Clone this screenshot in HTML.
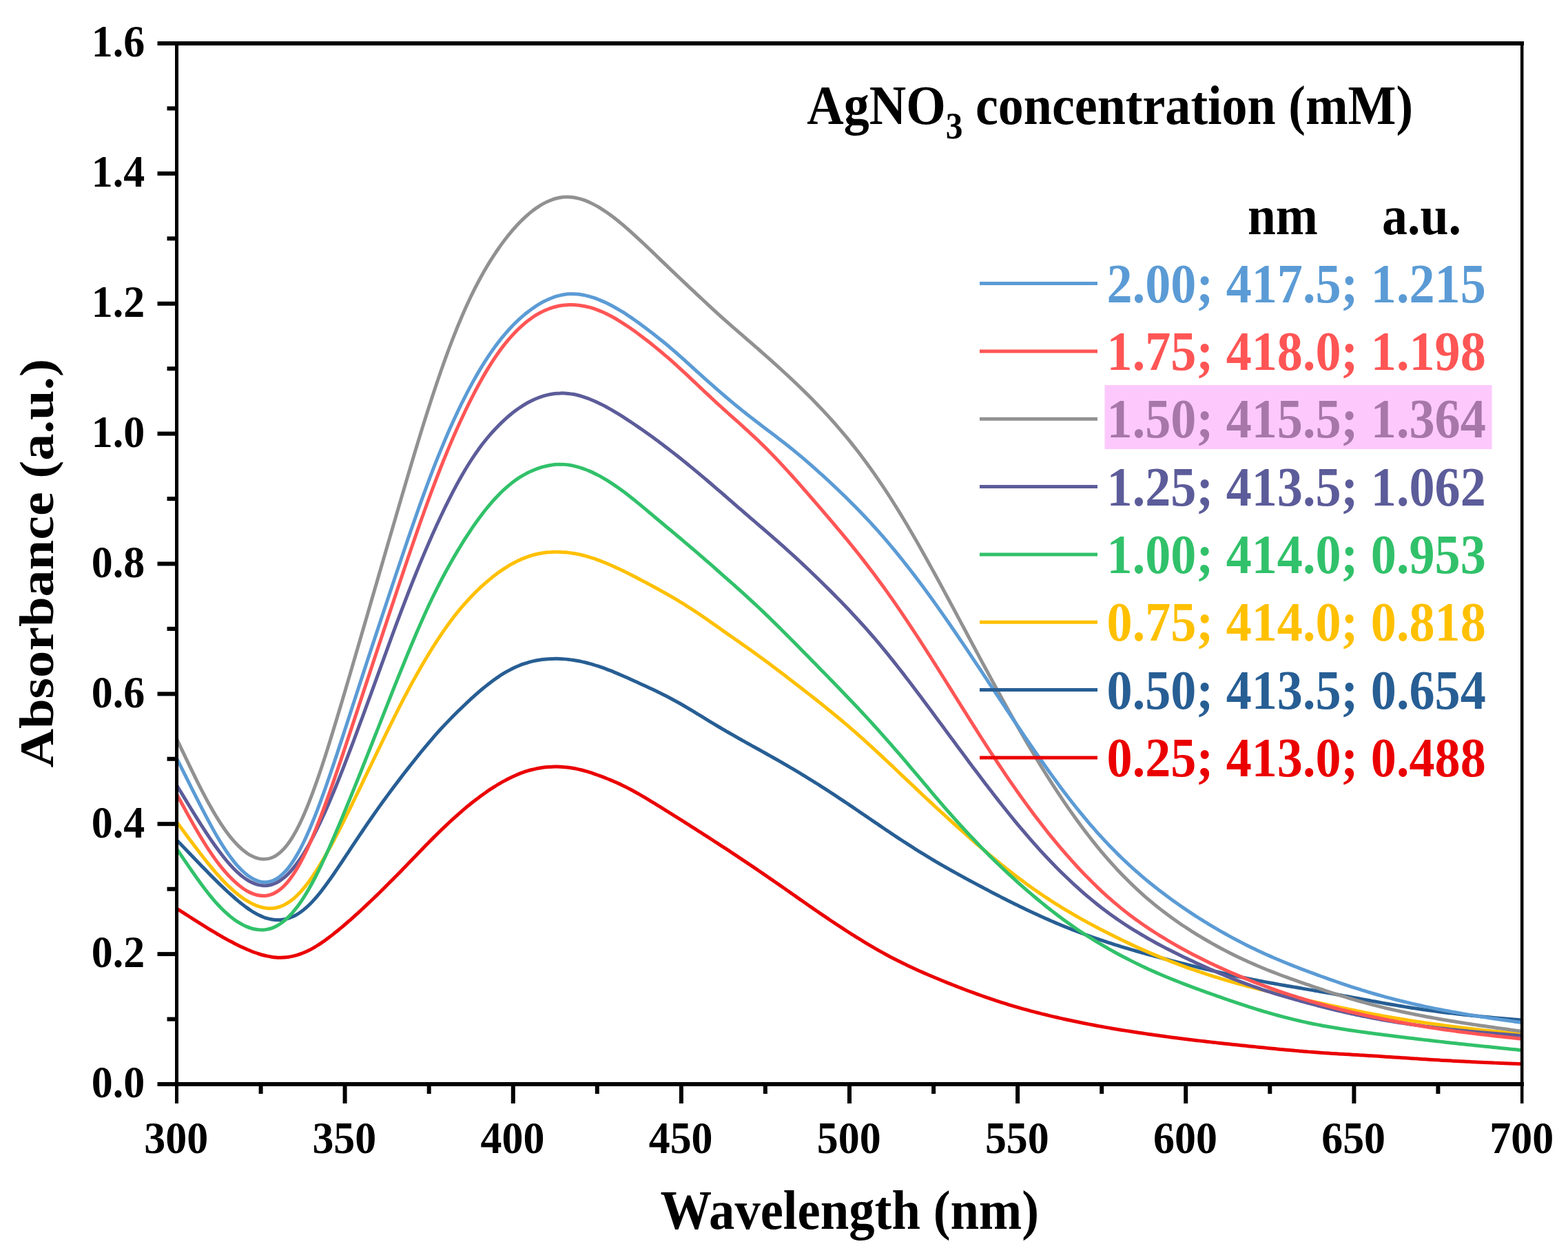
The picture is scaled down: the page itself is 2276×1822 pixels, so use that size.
<!DOCTYPE html>
<html><head><meta charset="utf-8"><title>AgNO3 UV-Vis absorbance spectra</title><style>
html,body{margin:0;padding:0;background:#fff;width:2276px;height:1822px;overflow:hidden}
svg{display:block}
text{font-family:"Liberation Serif","Times New Roman",serif;font-weight:bold}
</style></head><body>
<svg width="2276" height="1822" viewBox="0 0 2276 1822">
<rect width="2276" height="1822" fill="#fff"/>
<g fill="none" stroke-width="5" stroke-linejoin="round" stroke-linecap="butt">
<path stroke="#EA0000" d="M256.50,1318.95C258.50,1320.23 260.49,1321.52 262.49,1322.80C264.49,1324.08 266.48,1325.36 268.48,1326.64C270.48,1327.92 272.48,1329.20 274.47,1330.48C276.47,1331.76 278.47,1333.03 280.46,1334.31C282.46,1335.58 284.46,1336.85 286.45,1338.12C288.45,1339.39 290.45,1340.65 292.44,1341.91C294.44,1343.17 296.44,1344.42 298.44,1345.67C300.43,1346.91 302.43,1348.14 304.43,1349.36C306.42,1350.58 308.42,1351.79 310.42,1352.98C312.41,1354.18 314.41,1355.36 316.41,1356.52C318.40,1357.68 320.40,1358.83 322.40,1359.96C324.40,1361.09 326.39,1362.21 328.39,1363.31C330.39,1364.41 332.38,1365.49 334.38,1366.55C336.38,1367.62 338.37,1368.66 340.37,1369.68C342.37,1370.71 344.37,1371.71 346.36,1372.68C348.36,1373.66 350.36,1374.61 352.35,1375.53C354.35,1376.46 356.35,1377.35 358.34,1378.22C360.34,1379.08 362.34,1379.92 364.33,1380.71C366.33,1381.51 368.33,1382.27 370.33,1382.99C372.32,1383.70 374.32,1384.38 376.32,1385.00C378.31,1385.63 380.31,1386.21 382.31,1386.74C384.30,1387.26 386.30,1387.74 388.30,1388.15C390.29,1388.57 392.29,1388.93 394.29,1389.22C396.29,1389.52 398.28,1389.75 400.28,1389.92C402.28,1390.08 404.27,1390.18 406.27,1390.21C408.27,1390.23 410.26,1390.19 412.26,1390.06C414.26,1389.94 416.25,1389.74 418.25,1389.47C420.25,1389.19 422.25,1388.84 424.24,1388.41C426.24,1387.98 428.24,1387.48 430.23,1386.90C432.23,1386.32 434.23,1385.67 436.22,1384.94C438.22,1384.22 440.22,1383.43 442.21,1382.57C444.21,1381.71 446.21,1380.78 448.21,1379.78C450.20,1378.79 452.20,1377.72 454.20,1376.59C456.19,1375.45 458.19,1374.25 460.19,1373.00C462.18,1371.75 464.18,1370.45 466.18,1369.10C468.17,1367.75 470.17,1366.35 472.17,1364.91C474.17,1363.47 476.16,1362.00 478.16,1360.48C480.16,1358.97 482.15,1357.43 484.15,1355.85C486.15,1354.28 488.14,1352.68 490.14,1351.05C492.14,1349.42 494.13,1347.77 496.13,1346.09C498.13,1344.41 500.13,1342.71 502.12,1340.99C504.12,1339.27 506.12,1337.53 508.11,1335.78C510.11,1334.02 512.11,1332.24 514.10,1330.45C516.10,1328.66 518.10,1326.85 520.10,1325.03C522.09,1323.21 524.09,1321.37 526.09,1319.53C528.08,1317.68 530.08,1315.82 532.08,1313.94C534.07,1312.06 536.07,1310.17 538.07,1308.27C540.06,1306.37 542.06,1304.45 544.06,1302.52C546.06,1300.59 548.05,1298.65 550.05,1296.70C552.05,1294.74 554.04,1292.78 556.04,1290.80C558.04,1288.83 560.03,1286.84 562.03,1284.85C564.03,1282.85 566.02,1280.85 568.02,1278.84C570.02,1276.83 572.02,1274.81 574.01,1272.78C576.01,1270.76 578.01,1268.72 580.00,1266.68C582.00,1264.64 584.00,1262.60 585.99,1260.54C587.99,1258.49 589.99,1256.43 591.98,1254.37C593.98,1252.31 595.98,1250.24 597.98,1248.18C599.97,1246.11 601.97,1244.04 603.97,1241.96C605.96,1239.89 607.96,1237.82 609.96,1235.75C611.95,1233.68 613.95,1231.62 615.95,1229.56C617.94,1227.51 619.94,1225.46 621.94,1223.43C623.94,1221.40 625.93,1219.38 627.93,1217.38C629.93,1215.37 631.92,1213.39 633.92,1211.42C635.92,1209.45 637.91,1207.50 639.91,1205.57C641.91,1203.64 643.90,1201.73 645.90,1199.84C647.90,1197.95 649.90,1196.07 651.89,1194.22C653.89,1192.37 655.89,1190.53 657.88,1188.71C659.88,1186.90 661.88,1185.10 663.87,1183.32C665.87,1181.55 667.87,1179.79 669.87,1178.05C671.86,1176.32 673.86,1174.60 675.86,1172.92C677.85,1171.24 679.85,1169.58 681.85,1167.97C683.84,1166.35 685.84,1164.77 687.84,1163.21C689.83,1161.66 691.83,1160.13 693.83,1158.63C695.83,1157.13 697.82,1155.66 699.82,1154.22C701.82,1152.78 703.81,1151.36 705.81,1149.98C707.81,1148.60 709.80,1147.24 711.80,1145.92C713.80,1144.60 715.79,1143.31 717.79,1142.05C719.79,1140.79 721.79,1139.57 723.78,1138.38C725.78,1137.19 727.78,1136.03 729.77,1134.92C731.77,1133.80 733.77,1132.72 735.76,1131.68C737.76,1130.63 739.76,1129.63 741.75,1128.67C743.75,1127.71 745.75,1126.79 747.75,1125.92C749.74,1125.04 751.74,1124.21 753.74,1123.42C755.73,1122.63 757.73,1121.88 759.73,1121.18C761.72,1120.48 763.72,1119.82 765.72,1119.21C767.71,1118.60 769.71,1118.03 771.71,1117.52C773.71,1117.00 775.70,1116.52 777.70,1116.10C779.70,1115.67 781.69,1115.29 783.69,1114.96C785.69,1114.62 787.68,1114.34 789.68,1114.09C791.68,1113.85 793.67,1113.65 795.67,1113.50C797.67,1113.35 799.67,1113.23 801.66,1113.17C803.66,1113.10 805.66,1113.07 807.65,1113.09C809.65,1113.10 811.65,1113.16 813.64,1113.25C815.64,1113.35 817.64,1113.49 819.63,1113.67C821.63,1113.84 823.63,1114.06 825.63,1114.32C827.62,1114.58 829.62,1114.88 831.62,1115.22C833.61,1115.57 835.61,1115.95 837.61,1116.37C839.60,1116.80 841.60,1117.26 843.60,1117.76C845.60,1118.26 847.59,1118.80 849.59,1119.37C851.59,1119.93 853.58,1120.53 855.58,1121.16C857.58,1121.79 859.57,1122.45 861.57,1123.12C863.57,1123.80 865.56,1124.51 867.56,1125.23C869.56,1125.95 871.56,1126.69 873.55,1127.44C875.55,1128.20 877.55,1128.97 879.54,1129.76C881.54,1130.54 883.54,1131.35 885.53,1132.17C887.53,1132.99 889.53,1133.84 891.52,1134.70C893.52,1135.56 895.52,1136.44 897.52,1137.35C899.51,1138.26 901.51,1139.20 903.51,1140.16C905.50,1141.13 907.50,1142.12 909.50,1143.14C911.49,1144.16 913.49,1145.20 915.49,1146.26C917.48,1147.33 919.48,1148.41 921.48,1149.52C923.48,1150.62 925.47,1151.75 927.47,1152.89C929.47,1154.03 931.46,1155.19 933.46,1156.36C935.46,1157.53 937.45,1158.71 939.45,1159.91C941.45,1161.10 943.44,1162.31 945.44,1163.52C947.44,1164.74 949.44,1165.96 951.43,1167.19C953.43,1168.41 955.43,1169.65 957.42,1170.88C959.42,1172.12 961.42,1173.36 963.41,1174.60C965.41,1175.84 967.41,1177.08 969.40,1178.33C971.40,1179.58 973.40,1180.83 975.40,1182.08C977.39,1183.33 979.39,1184.58 981.39,1185.84C983.38,1187.10 985.38,1188.36 987.38,1189.62C989.37,1190.88 991.37,1192.14 993.37,1193.41C995.37,1194.68 997.36,1195.94 999.36,1197.21C1001.36,1198.48 1003.35,1199.75 1005.35,1201.03C1007.35,1202.30 1009.34,1203.58 1011.34,1204.85C1013.34,1206.13 1015.33,1207.41 1017.33,1208.69C1019.33,1209.97 1021.33,1211.25 1023.32,1212.54C1025.32,1213.82 1027.32,1215.10 1029.31,1216.39C1031.31,1217.68 1033.31,1218.97 1035.30,1220.26C1037.30,1221.55 1039.30,1222.85 1041.29,1224.15C1043.29,1225.44 1045.29,1226.74 1047.29,1228.05C1049.28,1229.35 1051.28,1230.65 1053.28,1231.96C1055.27,1233.27 1057.27,1234.58 1059.27,1235.90C1061.26,1237.21 1063.26,1238.53 1065.26,1239.85C1067.25,1241.17 1069.25,1242.50 1071.25,1243.82C1073.25,1245.15 1075.24,1246.48 1077.24,1247.82C1079.24,1249.15 1081.23,1250.49 1083.23,1251.83C1085.23,1253.17 1087.22,1254.51 1089.22,1255.86C1091.22,1257.21 1093.21,1258.56 1095.21,1259.91C1097.21,1261.27 1099.21,1262.62 1101.20,1263.99C1103.20,1265.35 1105.20,1266.71 1107.19,1268.08C1109.19,1269.44 1111.19,1270.81 1113.18,1272.19C1115.18,1273.56 1117.18,1274.94 1119.17,1276.32C1121.17,1277.70 1123.17,1279.08 1125.17,1280.46C1127.16,1281.85 1129.16,1283.24 1131.16,1284.63C1133.15,1286.02 1135.15,1287.41 1137.15,1288.80C1139.14,1290.20 1141.14,1291.60 1143.14,1293.00C1145.13,1294.39 1147.13,1295.79 1149.13,1297.19C1151.13,1298.59 1153.12,1299.99 1155.12,1301.39C1157.12,1302.79 1159.11,1304.19 1161.11,1305.58C1163.11,1306.98 1165.10,1308.38 1167.10,1309.77C1169.10,1311.16 1171.10,1312.55 1173.09,1313.94C1175.09,1315.33 1177.09,1316.72 1179.08,1318.10C1181.08,1319.48 1183.08,1320.86 1185.07,1322.24C1187.07,1323.61 1189.07,1324.98 1191.06,1326.35C1193.06,1327.72 1195.06,1329.08 1197.06,1330.44C1199.05,1331.80 1201.05,1333.15 1203.05,1334.50C1205.04,1335.84 1207.04,1337.18 1209.04,1338.52C1211.03,1339.85 1213.03,1341.18 1215.03,1342.50C1217.02,1343.82 1219.02,1345.14 1221.02,1346.44C1223.02,1347.75 1225.01,1349.05 1227.01,1350.34C1229.01,1351.63 1231.00,1352.91 1233.00,1354.18C1235.00,1355.46 1236.99,1356.72 1238.99,1357.98C1240.99,1359.24 1242.98,1360.49 1244.98,1361.73C1246.98,1362.96 1248.98,1364.19 1250.97,1365.42C1252.97,1366.64 1254.97,1367.85 1256.96,1369.05C1258.96,1370.25 1260.96,1371.44 1262.95,1372.62C1264.95,1373.80 1266.95,1374.96 1268.94,1376.12C1270.94,1377.28 1272.94,1378.42 1274.94,1379.55C1276.93,1380.69 1278.93,1381.81 1280.93,1382.92C1282.92,1384.03 1284.92,1385.12 1286.92,1386.21C1288.91,1387.29 1290.91,1388.36 1292.91,1389.42C1294.90,1390.47 1296.90,1391.52 1298.90,1392.55C1300.90,1393.58 1302.89,1394.60 1304.89,1395.60C1306.89,1396.60 1308.88,1397.59 1310.88,1398.57C1312.88,1399.55 1314.87,1400.51 1316.87,1401.46C1318.87,1402.41 1320.87,1403.35 1322.86,1404.28C1324.86,1405.21 1326.86,1406.13 1328.85,1407.04C1330.85,1407.95 1332.85,1408.85 1334.84,1409.74C1336.84,1410.63 1338.84,1411.51 1340.83,1412.39C1342.83,1413.26 1344.83,1414.12 1346.83,1414.98C1348.82,1415.84 1350.82,1416.69 1352.82,1417.54C1354.81,1418.38 1356.81,1419.22 1358.81,1420.05C1360.80,1420.88 1362.80,1421.71 1364.80,1422.53C1366.79,1423.35 1368.79,1424.17 1370.79,1424.98C1372.79,1425.79 1374.78,1426.59 1376.78,1427.39C1378.78,1428.19 1380.77,1428.99 1382.77,1429.78C1384.77,1430.57 1386.76,1431.35 1388.76,1432.13C1390.76,1432.91 1392.75,1433.68 1394.75,1434.45C1396.75,1435.21 1398.75,1435.98 1400.74,1436.73C1402.74,1437.49 1404.74,1438.24 1406.73,1438.98C1408.73,1439.73 1410.73,1440.46 1412.72,1441.20C1414.72,1441.93 1416.72,1442.65 1418.71,1443.37C1420.71,1444.09 1422.71,1444.81 1424.71,1445.51C1426.70,1446.22 1428.70,1446.92 1430.70,1447.61C1432.69,1448.31 1434.69,1448.99 1436.69,1449.67C1438.68,1450.35 1440.68,1451.03 1442.68,1451.69C1444.67,1452.36 1446.67,1453.02 1448.67,1453.67C1450.67,1454.32 1452.66,1454.96 1454.66,1455.60C1456.66,1456.23 1458.65,1456.86 1460.65,1457.48C1462.65,1458.10 1464.64,1458.71 1466.64,1459.32C1468.64,1459.92 1470.63,1460.52 1472.63,1461.11C1474.63,1461.70 1476.63,1462.28 1478.62,1462.85C1480.62,1463.43 1482.62,1463.99 1484.61,1464.55C1486.61,1465.11 1488.61,1465.66 1490.60,1466.21C1492.60,1466.75 1494.60,1467.29 1496.60,1467.82C1498.59,1468.35 1500.59,1468.88 1502.59,1469.40C1504.58,1469.91 1506.58,1470.43 1508.58,1470.93C1510.57,1471.44 1512.57,1471.94 1514.57,1472.43C1516.56,1472.93 1518.56,1473.42 1520.56,1473.90C1522.56,1474.38 1524.55,1474.86 1526.55,1475.34C1528.55,1475.81 1530.54,1476.28 1532.54,1476.74C1534.54,1477.20 1536.53,1477.66 1538.53,1478.11C1540.53,1478.56 1542.52,1479.01 1544.52,1479.45C1546.52,1479.90 1548.52,1480.34 1550.51,1480.77C1552.51,1481.20 1554.51,1481.63 1556.50,1482.05C1558.50,1482.48 1560.50,1482.90 1562.49,1483.31C1564.49,1483.73 1566.49,1484.14 1568.48,1484.54C1570.48,1484.95 1572.48,1485.35 1574.48,1485.74C1576.47,1486.14 1578.47,1486.53 1580.47,1486.92C1582.46,1487.31 1584.46,1487.69 1586.46,1488.07C1588.45,1488.45 1590.45,1488.82 1592.45,1489.19C1594.44,1489.56 1596.44,1489.93 1598.44,1490.29C1600.44,1490.65 1602.43,1491.01 1604.43,1491.36C1606.43,1491.71 1608.42,1492.06 1610.42,1492.41C1612.42,1492.75 1614.41,1493.09 1616.41,1493.43C1618.41,1493.77 1620.40,1494.10 1622.40,1494.43C1624.40,1494.76 1626.40,1495.09 1628.39,1495.42C1630.39,1495.74 1632.39,1496.06 1634.38,1496.38C1636.38,1496.70 1638.38,1497.01 1640.37,1497.33C1642.37,1497.64 1644.37,1497.95 1646.37,1498.26C1648.36,1498.56 1650.36,1498.87 1652.36,1499.17C1654.35,1499.47 1656.35,1499.77 1658.35,1500.07C1660.34,1500.36 1662.34,1500.66 1664.34,1500.95C1666.33,1501.24 1668.33,1501.53 1670.33,1501.81C1672.33,1502.10 1674.32,1502.38 1676.32,1502.66C1678.32,1502.94 1680.31,1503.22 1682.31,1503.50C1684.31,1503.78 1686.30,1504.05 1688.30,1504.32C1690.30,1504.59 1692.29,1504.86 1694.29,1505.13C1696.29,1505.40 1698.29,1505.66 1700.28,1505.92C1702.28,1506.19 1704.28,1506.45 1706.27,1506.71C1708.27,1506.96 1710.27,1507.22 1712.26,1507.47C1714.26,1507.73 1716.26,1507.98 1718.25,1508.23C1720.25,1508.48 1722.25,1508.73 1724.25,1508.97C1726.24,1509.22 1728.24,1509.46 1730.24,1509.71C1732.23,1509.95 1734.23,1510.19 1736.23,1510.43C1738.22,1510.66 1740.22,1510.90 1742.22,1511.14C1744.21,1511.37 1746.21,1511.60 1748.21,1511.83C1750.21,1512.07 1752.20,1512.29 1754.20,1512.52C1756.20,1512.75 1758.19,1512.98 1760.19,1513.20C1762.19,1513.43 1764.18,1513.65 1766.18,1513.87C1768.18,1514.09 1770.17,1514.31 1772.17,1514.53C1774.17,1514.75 1776.17,1514.97 1778.16,1515.18C1780.16,1515.40 1782.16,1515.61 1784.15,1515.83C1786.15,1516.04 1788.15,1516.25 1790.14,1516.46C1792.14,1516.67 1794.14,1516.88 1796.13,1517.09C1798.13,1517.30 1800.13,1517.51 1802.13,1517.72C1804.12,1517.93 1806.12,1518.13 1808.12,1518.34C1810.11,1518.54 1812.11,1518.75 1814.11,1518.95C1816.10,1519.16 1818.10,1519.36 1820.10,1519.56C1822.10,1519.77 1824.09,1519.97 1826.09,1520.17C1828.09,1520.37 1830.08,1520.57 1832.08,1520.77C1834.08,1520.97 1836.07,1521.17 1838.07,1521.37C1840.07,1521.57 1842.06,1521.77 1844.06,1521.96C1846.06,1522.16 1848.06,1522.36 1850.05,1522.55C1852.05,1522.75 1854.05,1522.94 1856.04,1523.14C1858.04,1523.33 1860.04,1523.52 1862.03,1523.71C1864.03,1523.90 1866.03,1524.09 1868.02,1524.28C1870.02,1524.47 1872.02,1524.65 1874.02,1524.83C1876.01,1525.02 1878.01,1525.20 1880.01,1525.37C1882.00,1525.55 1884.00,1525.73 1886.00,1525.90C1887.99,1526.07 1889.99,1526.24 1891.99,1526.40C1893.98,1526.56 1895.98,1526.73 1897.98,1526.88C1899.98,1527.04 1901.97,1527.20 1903.97,1527.35C1905.97,1527.50 1907.96,1527.65 1909.96,1527.79C1911.96,1527.94 1913.95,1528.08 1915.95,1528.22C1917.95,1528.36 1919.94,1528.50 1921.94,1528.63C1923.94,1528.76 1925.94,1528.90 1927.93,1529.03C1929.93,1529.15 1931.93,1529.28 1933.92,1529.41C1935.92,1529.53 1937.92,1529.65 1939.91,1529.78C1941.91,1529.90 1943.91,1530.02 1945.90,1530.14C1947.90,1530.26 1949.90,1530.37 1951.90,1530.49C1953.89,1530.61 1955.89,1530.73 1957.89,1530.85C1959.88,1530.96 1961.88,1531.08 1963.88,1531.20C1965.87,1531.32 1967.87,1531.43 1969.87,1531.55C1971.87,1531.67 1973.86,1531.79 1975.86,1531.91C1977.86,1532.03 1979.85,1532.15 1981.85,1532.27C1983.85,1532.39 1985.84,1532.51 1987.84,1532.63C1989.84,1532.75 1991.83,1532.87 1993.83,1533.00C1995.83,1533.12 1997.83,1533.25 1999.82,1533.37C2001.82,1533.50 2003.82,1533.62 2005.81,1533.75C2007.81,1533.88 2009.81,1534.00 2011.80,1534.13C2013.80,1534.26 2015.80,1534.39 2017.79,1534.52C2019.79,1534.65 2021.79,1534.78 2023.79,1534.91C2025.78,1535.04 2027.78,1535.17 2029.78,1535.30C2031.77,1535.43 2033.77,1535.56 2035.77,1535.69C2037.76,1535.83 2039.76,1535.96 2041.76,1536.09C2043.75,1536.22 2045.75,1536.35 2047.75,1536.48C2049.75,1536.61 2051.74,1536.74 2053.74,1536.87C2055.74,1537.00 2057.73,1537.13 2059.73,1537.26C2061.73,1537.39 2063.72,1537.52 2065.72,1537.65C2067.72,1537.77 2069.71,1537.90 2071.71,1538.02C2073.71,1538.15 2075.71,1538.27 2077.70,1538.40C2079.70,1538.52 2081.70,1538.64 2083.69,1538.76C2085.69,1538.88 2087.69,1539.00 2089.68,1539.12C2091.68,1539.23 2093.68,1539.35 2095.67,1539.47C2097.67,1539.58 2099.67,1539.69 2101.67,1539.80C2103.66,1539.92 2105.66,1540.03 2107.66,1540.13C2109.65,1540.24 2111.65,1540.35 2113.65,1540.46C2115.64,1540.56 2117.64,1540.67 2119.64,1540.77C2121.63,1540.87 2123.63,1540.97 2125.63,1541.07C2127.63,1541.17 2129.62,1541.27 2131.62,1541.37C2133.62,1541.47 2135.61,1541.56 2137.61,1541.66C2139.61,1541.75 2141.60,1541.84 2143.60,1541.94C2145.60,1542.03 2147.60,1542.12 2149.59,1542.21C2151.59,1542.30 2153.59,1542.39 2155.58,1542.48C2157.58,1542.56 2159.58,1542.65 2161.57,1542.74C2163.57,1542.82 2165.57,1542.91 2167.56,1543.00C2169.56,1543.08 2171.56,1543.17 2173.56,1543.25C2175.55,1543.33 2177.55,1543.42 2179.55,1543.50C2181.54,1543.59 2183.54,1543.67 2185.54,1543.75C2187.53,1543.84 2189.53,1543.92 2191.53,1544.00C2193.52,1544.08 2195.52,1544.16 2197.52,1544.25C2199.52,1544.33 2201.51,1544.41 2203.51,1544.49C2205.51,1544.58 2207.50,1544.66 2209.50,1544.74"/>
<path stroke="#275E94" d="M256.50,1219.49C258.50,1221.57 260.49,1223.66 262.49,1225.74C264.49,1227.82 266.48,1229.90 268.48,1231.98C270.48,1234.06 272.48,1236.14 274.47,1238.22C276.47,1240.30 278.47,1242.38 280.46,1244.46C282.46,1246.54 284.46,1248.61 286.45,1250.69C288.45,1252.76 290.45,1254.83 292.44,1256.90C294.44,1258.97 296.44,1261.03 298.44,1263.08C300.43,1265.14 302.43,1267.19 304.43,1269.22C306.42,1271.25 308.42,1273.28 310.42,1275.28C312.41,1277.29 314.41,1279.27 316.41,1281.24C318.40,1283.20 320.40,1285.15 322.40,1287.06C324.40,1288.98 326.39,1290.87 328.39,1292.73C330.39,1294.58 332.38,1296.41 334.38,1298.21C336.38,1300.01 338.37,1301.77 340.37,1303.50C342.37,1305.22 344.37,1306.92 346.36,1308.56C348.36,1310.21 350.36,1311.82 352.35,1313.37C354.35,1314.92 356.35,1316.42 358.34,1317.86C360.34,1319.29 362.34,1320.67 364.33,1321.97C366.33,1323.27 368.33,1324.50 370.33,1325.65C372.32,1326.79 374.32,1327.86 376.32,1328.83C378.31,1329.80 380.31,1330.68 382.31,1331.46C384.30,1332.23 386.30,1332.90 388.30,1333.46C390.29,1334.03 392.29,1334.48 394.29,1334.82C396.29,1335.16 398.28,1335.39 400.28,1335.50C402.28,1335.62 404.27,1335.61 406.27,1335.49C408.27,1335.37 410.26,1335.12 412.26,1334.76C414.26,1334.40 416.25,1333.91 418.25,1333.30C420.25,1332.68 422.25,1331.95 424.24,1331.08C426.24,1330.21 428.24,1329.22 430.23,1328.09C432.23,1326.96 434.23,1325.69 436.22,1324.30C438.22,1322.90 440.22,1321.36 442.21,1319.69C444.21,1318.02 446.21,1316.21 448.21,1314.28C450.20,1312.35 452.20,1310.30 454.20,1308.13C456.19,1305.96 458.19,1303.69 460.19,1301.32C462.18,1298.94 464.18,1296.47 466.18,1293.92C468.17,1291.37 470.17,1288.74 472.17,1286.05C474.17,1283.35 476.16,1280.59 478.16,1277.78C480.16,1274.97 482.15,1272.12 484.15,1269.22C486.15,1266.33 488.14,1263.39 490.14,1260.44C492.14,1257.48 494.13,1254.50 496.13,1251.50C498.13,1248.51 500.13,1245.50 502.12,1242.48C504.12,1239.47 506.12,1236.45 508.11,1233.43C510.11,1230.42 512.11,1227.40 514.10,1224.40C516.10,1221.39 518.10,1218.39 520.10,1215.41C522.09,1212.42 524.09,1209.45 526.09,1206.50C528.08,1203.55 530.08,1200.61 532.08,1197.69C534.07,1194.77 536.07,1191.87 538.07,1188.99C540.06,1186.11 542.06,1183.24 544.06,1180.40C546.06,1177.56 548.05,1174.73 550.05,1171.93C552.05,1169.13 554.04,1166.34 556.04,1163.58C558.04,1160.82 560.03,1158.07 562.03,1155.35C564.03,1152.63 566.02,1149.93 568.02,1147.25C570.02,1144.56 572.02,1141.90 574.01,1139.25C576.01,1136.61 578.01,1133.98 580.00,1131.37C582.00,1128.75 584.00,1126.16 585.99,1123.58C587.99,1120.99 589.99,1118.43 591.98,1115.88C593.98,1113.32 595.98,1110.79 597.98,1108.26C599.97,1105.74 601.97,1103.23 603.97,1100.73C605.96,1098.24 607.96,1095.76 609.96,1093.29C611.95,1090.83 613.95,1088.39 615.95,1085.97C617.94,1083.55 619.94,1081.16 621.94,1078.79C623.94,1076.42 625.93,1074.08 627.93,1071.77C629.93,1069.46 631.92,1067.18 633.92,1064.94C635.92,1062.70 637.91,1060.49 639.91,1058.31C641.91,1056.14 643.90,1054.00 645.90,1051.89C647.90,1049.78 649.90,1047.70 651.89,1045.64C653.89,1043.59 655.89,1041.56 657.88,1039.55C659.88,1037.53 661.88,1035.54 663.87,1033.57C665.87,1031.60 667.87,1029.65 669.87,1027.71C671.86,1025.77 673.86,1023.85 675.86,1021.95C677.85,1020.06 679.85,1018.18 681.85,1016.33C683.84,1014.48 685.84,1012.65 687.84,1010.86C689.83,1009.07 691.83,1007.30 693.83,1005.58C695.83,1003.85 697.82,1002.15 699.82,1000.49C701.82,998.83 703.81,997.20 705.81,995.61C707.81,994.02 709.80,992.46 711.80,990.94C713.80,989.42 715.79,987.94 717.79,986.50C719.79,985.07 721.79,983.68 723.78,982.34C725.78,981.00 727.78,979.71 729.77,978.48C731.77,977.24 733.77,976.06 735.76,974.93C737.76,973.80 739.76,972.73 741.75,971.71C743.75,970.68 745.75,969.72 747.75,968.80C749.74,967.89 751.74,967.04 753.74,966.23C755.73,965.43 757.73,964.68 759.73,963.98C761.72,963.29 763.72,962.64 765.72,962.05C767.71,961.45 769.71,960.91 771.71,960.41C773.71,959.92 775.70,959.47 777.70,959.07C779.70,958.67 781.69,958.32 783.69,958.02C785.69,957.71 787.68,957.45 789.68,957.23C791.68,957.01 793.67,956.83 795.67,956.69C797.67,956.56 799.67,956.46 801.66,956.40C803.66,956.35 805.66,956.33 807.65,956.34C809.65,956.36 811.65,956.41 813.64,956.50C815.64,956.59 817.64,956.71 819.63,956.87C821.63,957.03 823.63,957.22 825.63,957.44C827.62,957.67 829.62,957.93 831.62,958.23C833.61,958.52 835.61,958.85 837.61,959.21C839.60,959.57 841.60,959.96 843.60,960.38C845.60,960.81 847.59,961.26 849.59,961.75C851.59,962.23 853.58,962.75 855.58,963.30C857.58,963.84 859.57,964.41 861.57,965.02C863.57,965.62 865.56,966.25 867.56,966.90C869.56,967.55 871.56,968.23 873.55,968.94C875.55,969.64 877.55,970.37 879.54,971.11C881.54,971.86 883.54,972.63 885.53,973.42C887.53,974.20 889.53,975.01 891.52,975.83C893.52,976.66 895.52,977.49 897.52,978.34C899.51,979.20 901.51,980.06 903.51,980.93C905.50,981.80 907.50,982.68 909.50,983.57C911.49,984.46 913.49,985.35 915.49,986.25C917.48,987.15 919.48,988.05 921.48,988.96C923.48,989.87 925.47,990.78 927.47,991.70C929.47,992.61 931.46,993.53 933.46,994.45C935.46,995.37 937.45,996.29 939.45,997.22C941.45,998.14 943.44,999.07 945.44,1000.01C947.44,1000.94 949.44,1001.88 951.43,1002.83C953.43,1003.79 955.43,1004.75 957.42,1005.73C959.42,1006.71 961.42,1007.70 963.41,1008.70C965.41,1009.71 967.41,1010.73 969.40,1011.76C971.40,1012.80 973.40,1013.85 975.40,1014.92C977.39,1015.99 979.39,1017.07 981.39,1018.18C983.38,1019.28 985.38,1020.40 987.38,1021.54C989.37,1022.68 991.37,1023.84 993.37,1025.00C995.37,1026.17 997.36,1027.36 999.36,1028.55C1001.36,1029.74 1003.35,1030.94 1005.35,1032.15C1007.35,1033.36 1009.34,1034.58 1011.34,1035.79C1013.34,1037.01 1015.33,1038.24 1017.33,1039.46C1019.33,1040.68 1021.33,1041.90 1023.32,1043.13C1025.32,1044.35 1027.32,1045.57 1029.31,1046.78C1031.31,1047.99 1033.31,1049.20 1035.30,1050.40C1037.30,1051.60 1039.30,1052.80 1041.29,1053.98C1043.29,1055.17 1045.29,1056.35 1047.29,1057.53C1049.28,1058.70 1051.28,1059.87 1053.28,1061.04C1055.27,1062.20 1057.27,1063.36 1059.27,1064.51C1061.26,1065.66 1063.26,1066.80 1065.26,1067.95C1067.25,1069.09 1069.25,1070.22 1071.25,1071.35C1073.25,1072.48 1075.24,1073.61 1077.24,1074.73C1079.24,1075.85 1081.23,1076.96 1083.23,1078.08C1085.23,1079.19 1087.22,1080.30 1089.22,1081.41C1091.22,1082.52 1093.21,1083.62 1095.21,1084.73C1097.21,1085.84 1099.21,1086.95 1101.20,1088.05C1103.20,1089.16 1105.20,1090.27 1107.19,1091.38C1109.19,1092.49 1111.19,1093.61 1113.18,1094.72C1115.18,1095.84 1117.18,1096.96 1119.17,1098.08C1121.17,1099.21 1123.17,1100.33 1125.17,1101.47C1127.16,1102.60 1129.16,1103.73 1131.16,1104.88C1133.15,1106.02 1135.15,1107.17 1137.15,1108.32C1139.14,1109.48 1141.14,1110.64 1143.14,1111.80C1145.13,1112.97 1147.13,1114.14 1149.13,1115.32C1151.13,1116.50 1153.12,1117.68 1155.12,1118.88C1157.12,1120.07 1159.11,1121.27 1161.11,1122.47C1163.11,1123.68 1165.10,1124.89 1167.10,1126.11C1169.10,1127.32 1171.10,1128.55 1173.09,1129.78C1175.09,1131.01 1177.09,1132.25 1179.08,1133.50C1181.08,1134.74 1183.08,1136.00 1185.07,1137.26C1187.07,1138.51 1189.07,1139.78 1191.06,1141.06C1193.06,1142.33 1195.06,1143.61 1197.06,1144.90C1199.05,1146.18 1201.05,1147.48 1203.05,1148.77C1205.04,1150.07 1207.04,1151.38 1209.04,1152.69C1211.03,1154.00 1213.03,1155.31 1215.03,1156.63C1217.02,1157.95 1219.02,1159.28 1221.02,1160.61C1223.02,1161.94 1225.01,1163.27 1227.01,1164.61C1229.01,1165.94 1231.00,1167.28 1233.00,1168.63C1235.00,1169.97 1236.99,1171.32 1238.99,1172.67C1240.99,1174.03 1242.98,1175.38 1244.98,1176.74C1246.98,1178.10 1248.98,1179.46 1250.97,1180.82C1252.97,1182.18 1254.97,1183.55 1256.96,1184.91C1258.96,1186.28 1260.96,1187.64 1262.95,1189.01C1264.95,1190.38 1266.95,1191.74 1268.94,1193.10C1270.94,1194.47 1272.94,1195.83 1274.94,1197.19C1276.93,1198.55 1278.93,1199.91 1280.93,1201.26C1282.92,1202.62 1284.92,1203.97 1286.92,1205.32C1288.91,1206.66 1290.91,1208.01 1292.91,1209.34C1294.90,1210.68 1296.90,1212.01 1298.90,1213.34C1300.90,1214.67 1302.89,1215.99 1304.89,1217.31C1306.89,1218.62 1308.88,1219.93 1310.88,1221.23C1312.88,1222.54 1314.87,1223.83 1316.87,1225.12C1318.87,1226.41 1320.87,1227.69 1322.86,1228.97C1324.86,1230.24 1326.86,1231.51 1328.85,1232.77C1330.85,1234.03 1332.85,1235.28 1334.84,1236.53C1336.84,1237.77 1338.84,1239.01 1340.83,1240.24C1342.83,1241.47 1344.83,1242.69 1346.83,1243.90C1348.82,1245.11 1350.82,1246.31 1352.82,1247.51C1354.81,1248.70 1356.81,1249.89 1358.81,1251.07C1360.80,1252.24 1362.80,1253.41 1364.80,1254.57C1366.79,1255.73 1368.79,1256.88 1370.79,1258.03C1372.79,1259.17 1374.78,1260.31 1376.78,1261.43C1378.78,1262.56 1380.77,1263.68 1382.77,1264.80C1384.77,1265.92 1386.76,1267.03 1388.76,1268.13C1390.76,1269.23 1392.75,1270.33 1394.75,1271.43C1396.75,1272.52 1398.75,1273.61 1400.74,1274.70C1402.74,1275.78 1404.74,1276.87 1406.73,1277.94C1408.73,1279.02 1410.73,1280.10 1412.72,1281.17C1414.72,1282.25 1416.72,1283.31 1418.71,1284.38C1420.71,1285.45 1422.71,1286.51 1424.71,1287.57C1426.70,1288.63 1428.70,1289.68 1430.70,1290.73C1432.69,1291.79 1434.69,1292.83 1436.69,1293.88C1438.68,1294.92 1440.68,1295.96 1442.68,1296.99C1444.67,1298.03 1446.67,1299.06 1448.67,1300.09C1450.67,1301.11 1452.66,1302.13 1454.66,1303.15C1456.66,1304.17 1458.65,1305.18 1460.65,1306.19C1462.65,1307.19 1464.64,1308.19 1466.64,1309.19C1468.64,1310.19 1470.63,1311.18 1472.63,1312.17C1474.63,1313.15 1476.63,1314.13 1478.62,1315.11C1480.62,1316.08 1482.62,1317.05 1484.61,1318.02C1486.61,1318.98 1488.61,1319.94 1490.60,1320.89C1492.60,1321.84 1494.60,1322.79 1496.60,1323.72C1498.59,1324.66 1500.59,1325.59 1502.59,1326.52C1504.58,1327.45 1506.58,1328.36 1508.58,1329.28C1510.57,1330.19 1512.57,1331.09 1514.57,1331.99C1516.56,1332.89 1518.56,1333.78 1520.56,1334.66C1522.56,1335.54 1524.55,1336.42 1526.55,1337.28C1528.55,1338.15 1530.54,1339.01 1532.54,1339.86C1534.54,1340.71 1536.53,1341.56 1538.53,1342.39C1540.53,1343.23 1542.52,1344.05 1544.52,1344.87C1546.52,1345.69 1548.52,1346.50 1550.51,1347.30C1552.51,1348.10 1554.51,1348.89 1556.50,1349.68C1558.50,1350.46 1560.50,1351.24 1562.49,1352.01C1564.49,1352.77 1566.49,1353.53 1568.48,1354.28C1570.48,1355.03 1572.48,1355.78 1574.48,1356.51C1576.47,1357.25 1578.47,1357.97 1580.47,1358.69C1582.46,1359.41 1584.46,1360.12 1586.46,1360.83C1588.45,1361.53 1590.45,1362.23 1592.45,1362.91C1594.44,1363.60 1596.44,1364.28 1598.44,1364.96C1600.44,1365.63 1602.43,1366.30 1604.43,1366.96C1606.43,1367.62 1608.42,1368.27 1610.42,1368.92C1612.42,1369.57 1614.41,1370.21 1616.41,1370.84C1618.41,1371.48 1620.40,1372.11 1622.40,1372.73C1624.40,1373.35 1626.40,1373.96 1628.39,1374.57C1630.39,1375.19 1632.39,1375.79 1634.38,1376.39C1636.38,1376.99 1638.38,1377.58 1640.37,1378.17C1642.37,1378.76 1644.37,1379.34 1646.37,1379.92C1648.36,1380.50 1650.36,1381.08 1652.36,1381.65C1654.35,1382.21 1656.35,1382.78 1658.35,1383.34C1660.34,1383.90 1662.34,1384.46 1664.34,1385.01C1666.33,1385.56 1668.33,1386.11 1670.33,1386.65C1672.33,1387.20 1674.32,1387.74 1676.32,1388.27C1678.32,1388.81 1680.31,1389.35 1682.31,1389.88C1684.31,1390.41 1686.30,1390.93 1688.30,1391.46C1690.30,1391.98 1692.29,1392.50 1694.29,1393.02C1696.29,1393.54 1698.29,1394.06 1700.28,1394.57C1702.28,1395.09 1704.28,1395.60 1706.27,1396.11C1708.27,1396.62 1710.27,1397.13 1712.26,1397.63C1714.26,1398.14 1716.26,1398.64 1718.25,1399.14C1720.25,1399.64 1722.25,1400.14 1724.25,1400.64C1726.24,1401.13 1728.24,1401.63 1730.24,1402.12C1732.23,1402.61 1734.23,1403.11 1736.23,1403.59C1738.22,1404.08 1740.22,1404.57 1742.22,1405.05C1744.21,1405.54 1746.21,1406.02 1748.21,1406.50C1750.21,1406.98 1752.20,1407.46 1754.20,1407.93C1756.20,1408.41 1758.19,1408.88 1760.19,1409.35C1762.19,1409.82 1764.18,1410.29 1766.18,1410.75C1768.18,1411.22 1770.17,1411.68 1772.17,1412.14C1774.17,1412.60 1776.17,1413.05 1778.16,1413.50C1780.16,1413.96 1782.16,1414.40 1784.15,1414.85C1786.15,1415.29 1788.15,1415.74 1790.14,1416.17C1792.14,1416.61 1794.14,1417.04 1796.13,1417.47C1798.13,1417.90 1800.13,1418.33 1802.13,1418.75C1804.12,1419.17 1806.12,1419.59 1808.12,1420.00C1810.11,1420.41 1812.11,1420.82 1814.11,1421.23C1816.10,1421.63 1818.10,1422.03 1820.10,1422.43C1822.10,1422.82 1824.09,1423.21 1826.09,1423.60C1828.09,1423.99 1830.08,1424.37 1832.08,1424.75C1834.08,1425.13 1836.07,1425.51 1838.07,1425.88C1840.07,1426.25 1842.06,1426.62 1844.06,1426.99C1846.06,1427.35 1848.06,1427.71 1850.05,1428.07C1852.05,1428.43 1854.05,1428.78 1856.04,1429.14C1858.04,1429.49 1860.04,1429.84 1862.03,1430.19C1864.03,1430.54 1866.03,1430.88 1868.02,1431.23C1870.02,1431.57 1872.02,1431.92 1874.02,1432.26C1876.01,1432.60 1878.01,1432.95 1880.01,1433.29C1882.00,1433.63 1884.00,1433.97 1886.00,1434.31C1887.99,1434.65 1889.99,1434.99 1891.99,1435.34C1893.98,1435.68 1895.98,1436.02 1897.98,1436.37C1899.98,1436.71 1901.97,1437.05 1903.97,1437.40C1905.97,1437.74 1907.96,1438.09 1909.96,1438.44C1911.96,1438.78 1913.95,1439.13 1915.95,1439.48C1917.95,1439.83 1919.94,1440.18 1921.94,1440.53C1923.94,1440.89 1925.94,1441.24 1927.93,1441.59C1929.93,1441.95 1931.93,1442.30 1933.92,1442.66C1935.92,1443.02 1937.92,1443.38 1939.91,1443.74C1941.91,1444.10 1943.91,1444.46 1945.90,1444.82C1947.90,1445.18 1949.90,1445.55 1951.90,1445.91C1953.89,1446.28 1955.89,1446.64 1957.89,1447.01C1959.88,1447.38 1961.88,1447.75 1963.88,1448.12C1965.87,1448.48 1967.87,1448.85 1969.87,1449.23C1971.87,1449.60 1973.86,1449.97 1975.86,1450.34C1977.86,1450.71 1979.85,1451.08 1981.85,1451.45C1983.85,1451.82 1985.84,1452.19 1987.84,1452.56C1989.84,1452.93 1991.83,1453.30 1993.83,1453.67C1995.83,1454.03 1997.83,1454.40 1999.82,1454.76C2001.82,1455.13 2003.82,1455.49 2005.81,1455.85C2007.81,1456.21 2009.81,1456.57 2011.80,1456.92C2013.80,1457.28 2015.80,1457.63 2017.79,1457.98C2019.79,1458.33 2021.79,1458.67 2023.79,1459.02C2025.78,1459.36 2027.78,1459.70 2029.78,1460.03C2031.77,1460.37 2033.77,1460.70 2035.77,1461.03C2037.76,1461.36 2039.76,1461.69 2041.76,1462.01C2043.75,1462.33 2045.75,1462.64 2047.75,1462.96C2049.75,1463.27 2051.74,1463.58 2053.74,1463.89C2055.74,1464.19 2057.73,1464.49 2059.73,1464.79C2061.73,1465.08 2063.72,1465.38 2065.72,1465.66C2067.72,1465.95 2069.71,1466.23 2071.71,1466.51C2073.71,1466.79 2075.71,1467.07 2077.70,1467.34C2079.70,1467.61 2081.70,1467.88 2083.69,1468.14C2085.69,1468.41 2087.69,1468.67 2089.68,1468.93C2091.68,1469.18 2093.68,1469.44 2095.67,1469.68C2097.67,1469.93 2099.67,1470.18 2101.67,1470.42C2103.66,1470.67 2105.66,1470.90 2107.66,1471.14C2109.65,1471.38 2111.65,1471.61 2113.65,1471.84C2115.64,1472.07 2117.64,1472.30 2119.64,1472.52C2121.63,1472.74 2123.63,1472.96 2125.63,1473.18C2127.63,1473.40 2129.62,1473.61 2131.62,1473.82C2133.62,1474.04 2135.61,1474.25 2137.61,1474.45C2139.61,1474.66 2141.60,1474.86 2143.60,1475.06C2145.60,1475.27 2147.60,1475.47 2149.59,1475.66C2151.59,1475.86 2153.59,1476.05 2155.58,1476.25C2157.58,1476.44 2159.58,1476.63 2161.57,1476.82C2163.57,1477.01 2165.57,1477.20 2167.56,1477.38C2169.56,1477.57 2171.56,1477.75 2173.56,1477.93C2175.55,1478.11 2177.55,1478.29 2179.55,1478.47C2181.54,1478.65 2183.54,1478.83 2185.54,1479.01C2187.53,1479.19 2189.53,1479.36 2191.53,1479.54C2193.52,1479.71 2195.52,1479.89 2197.52,1480.06C2199.52,1480.24 2201.51,1480.41 2203.51,1480.59C2205.51,1480.76 2207.50,1480.93 2209.50,1481.11"/>
<path stroke="#FFC000" d="M256.50,1193.39C258.50,1196.09 260.49,1198.79 262.49,1201.50C264.49,1204.20 266.48,1206.90 268.48,1209.59C270.48,1212.29 272.48,1214.97 274.47,1217.65C276.47,1220.32 278.47,1222.98 280.46,1225.62C282.46,1228.27 284.46,1230.91 286.45,1233.53C288.45,1236.14 290.45,1238.75 292.44,1241.33C294.44,1243.91 296.44,1246.46 298.44,1248.98C300.43,1251.50 302.43,1253.97 304.43,1256.41C306.42,1258.84 308.42,1261.24 310.42,1263.58C312.41,1265.92 314.41,1268.21 316.41,1270.45C318.40,1272.68 320.40,1274.86 322.40,1276.99C324.40,1279.11 326.39,1281.17 328.39,1283.16C330.39,1285.16 332.38,1287.09 334.38,1288.95C336.38,1290.81 338.37,1292.60 340.37,1294.32C342.37,1296.04 344.37,1297.68 346.36,1299.25C348.36,1300.81 350.36,1302.30 352.35,1303.70C354.35,1305.11 356.35,1306.43 358.34,1307.66C360.34,1308.90 362.34,1310.04 364.33,1311.09C366.33,1312.14 368.33,1313.10 370.33,1313.96C372.32,1314.82 374.32,1315.57 376.32,1316.22C378.31,1316.86 380.31,1317.39 382.31,1317.81C384.30,1318.22 386.30,1318.51 388.30,1318.67C390.29,1318.83 392.29,1318.85 394.29,1318.74C396.29,1318.63 398.28,1318.38 400.28,1317.99C402.28,1317.59 404.27,1317.06 406.27,1316.37C408.27,1315.69 410.26,1314.86 412.26,1313.87C414.26,1312.89 416.25,1311.75 418.25,1310.47C420.25,1309.18 422.25,1307.74 424.24,1306.16C426.24,1304.57 428.24,1302.83 430.23,1300.95C432.23,1299.07 434.23,1297.03 436.22,1294.86C438.22,1292.68 440.22,1290.36 442.21,1287.89C444.21,1285.43 446.21,1282.83 448.21,1280.11C450.20,1277.38 452.20,1274.54 454.20,1271.58C456.19,1268.62 458.19,1265.56 460.19,1262.40C462.18,1259.25 464.18,1256.00 466.18,1252.68C468.17,1249.35 470.17,1245.94 472.17,1242.45C474.17,1238.97 476.16,1235.41 478.16,1231.79C480.16,1228.16 482.15,1224.47 484.15,1220.73C486.15,1216.98 488.14,1213.18 490.14,1209.32C492.14,1205.47 494.13,1201.57 496.13,1197.63C498.13,1193.68 500.13,1189.70 502.12,1185.69C504.12,1181.67 506.12,1177.63 508.11,1173.55C510.11,1169.48 512.11,1165.38 514.10,1161.27C516.10,1157.15 518.10,1153.02 520.10,1148.88C522.09,1144.74 524.09,1140.58 526.09,1136.43C528.08,1132.27 530.08,1128.11 532.08,1123.94C534.07,1119.78 536.07,1115.62 538.07,1111.46C540.06,1107.30 542.06,1103.15 544.06,1099.01C546.06,1094.86 548.05,1090.72 550.05,1086.59C552.05,1082.46 554.04,1078.34 556.04,1074.24C558.04,1070.13 560.03,1066.04 562.03,1061.96C564.03,1057.89 566.02,1053.83 568.02,1049.79C570.02,1045.76 572.02,1041.74 574.01,1037.75C576.01,1033.76 578.01,1029.80 580.00,1025.88C582.00,1021.95 584.00,1018.07 585.99,1014.22C587.99,1010.38 589.99,1006.57 591.98,1002.82C593.98,999.06 595.98,995.35 597.98,991.68C599.97,988.02 601.97,984.40 603.97,980.84C605.96,977.27 607.96,973.75 609.96,970.28C611.95,966.81 613.95,963.39 615.95,960.01C617.94,956.63 619.94,953.30 621.94,950.02C623.94,946.73 625.93,943.50 627.93,940.31C629.93,937.12 631.92,933.99 633.92,930.91C635.92,927.83 637.91,924.80 639.91,921.83C641.91,918.87 643.90,915.96 645.90,913.11C647.90,910.27 649.90,907.48 651.89,904.76C653.89,902.04 655.89,899.38 657.88,896.78C659.88,894.19 661.88,891.65 663.87,889.18C665.87,886.71 667.87,884.29 669.87,881.94C671.86,879.58 673.86,877.28 675.86,875.04C677.85,872.80 679.85,870.61 681.85,868.48C683.84,866.35 685.84,864.27 687.84,862.24C689.83,860.22 691.83,858.24 693.83,856.32C695.83,854.40 697.82,852.53 699.82,850.71C701.82,848.89 703.81,847.11 705.81,845.39C707.81,843.66 709.80,841.98 711.80,840.35C713.80,838.72 715.79,837.13 717.79,835.59C719.79,834.04 721.79,832.55 723.78,831.10C725.78,829.66 727.78,828.26 729.77,826.91C731.77,825.56 733.77,824.27 735.76,823.02C737.76,821.78 739.76,820.59 741.75,819.45C743.75,818.32 745.75,817.24 747.75,816.21C749.74,815.18 751.74,814.21 753.74,813.28C755.73,812.36 757.73,811.49 759.73,810.68C761.72,809.87 763.72,809.10 765.72,808.40C767.71,807.69 769.71,807.04 771.71,806.44C773.71,805.84 775.70,805.29 777.70,804.80C779.70,804.31 781.69,803.87 783.69,803.49C785.69,803.11 787.68,802.78 789.68,802.50C791.68,802.22 793.67,801.99 795.67,801.81C797.67,801.64 799.67,801.50 801.66,801.42C803.66,801.33 805.66,801.29 807.65,801.29C809.65,801.29 811.65,801.34 813.64,801.42C815.64,801.50 817.64,801.62 819.63,801.78C821.63,801.94 823.63,802.13 825.63,802.37C827.62,802.60 829.62,802.87 831.62,803.19C833.61,803.50 835.61,803.85 837.61,804.25C839.60,804.64 841.60,805.07 843.60,805.54C845.60,806.01 847.59,806.52 849.59,807.07C851.59,807.61 853.58,808.20 855.58,808.81C857.58,809.42 859.57,810.07 861.57,810.74C863.57,811.42 865.56,812.12 867.56,812.85C869.56,813.58 871.56,814.34 873.55,815.12C875.55,815.90 877.55,816.71 879.54,817.53C881.54,818.36 883.54,819.21 885.53,820.07C887.53,820.94 889.53,821.82 891.52,822.72C893.52,823.62 895.52,824.54 897.52,825.47C899.51,826.40 901.51,827.35 903.51,828.31C905.50,829.28 907.50,830.25 909.50,831.24C911.49,832.23 913.49,833.24 915.49,834.25C917.48,835.26 919.48,836.28 921.48,837.32C923.48,838.35 925.47,839.39 927.47,840.43C929.47,841.48 931.46,842.53 933.46,843.59C935.46,844.64 937.45,845.70 939.45,846.76C941.45,847.83 943.44,848.90 945.44,849.97C947.44,851.05 949.44,852.13 951.43,853.21C953.43,854.30 955.43,855.39 957.42,856.50C959.42,857.60 961.42,858.71 963.41,859.83C965.41,860.94 967.41,862.07 969.40,863.21C971.40,864.35 973.40,865.50 975.40,866.66C977.39,867.83 979.39,869.00 981.39,870.19C983.38,871.38 985.38,872.58 987.38,873.79C989.37,875.01 991.37,876.24 993.37,877.48C995.37,878.73 997.36,879.99 999.36,881.27C1001.36,882.55 1003.35,883.84 1005.35,885.15C1007.35,886.46 1009.34,887.79 1011.34,889.13C1013.34,890.47 1015.33,891.82 1017.33,893.18C1019.33,894.55 1021.33,895.92 1023.32,897.30C1025.32,898.68 1027.32,900.07 1029.31,901.47C1031.31,902.86 1033.31,904.26 1035.30,905.67C1037.30,907.07 1039.30,908.48 1041.29,909.89C1043.29,911.29 1045.29,912.70 1047.29,914.11C1049.28,915.52 1051.28,916.93 1053.28,918.33C1055.27,919.74 1057.27,921.14 1059.27,922.54C1061.26,923.94 1063.26,925.33 1065.26,926.73C1067.25,928.13 1069.25,929.52 1071.25,930.92C1073.25,932.32 1075.24,933.72 1077.24,935.12C1079.24,936.53 1081.23,937.93 1083.23,939.34C1085.23,940.75 1087.22,942.17 1089.22,943.59C1091.22,945.01 1093.21,946.44 1095.21,947.87C1097.21,949.30 1099.21,950.74 1101.20,952.19C1103.20,953.64 1105.20,955.10 1107.19,956.56C1109.19,958.03 1111.19,959.50 1113.18,960.98C1115.18,962.46 1117.18,963.95 1119.17,965.45C1121.17,966.95 1123.17,968.45 1125.17,969.96C1127.16,971.47 1129.16,972.98 1131.16,974.50C1133.15,976.02 1135.15,977.55 1137.15,979.08C1139.14,980.60 1141.14,982.14 1143.14,983.67C1145.13,985.21 1147.13,986.75 1149.13,988.29C1151.13,989.83 1153.12,991.38 1155.12,992.92C1157.12,994.47 1159.11,996.01 1161.11,997.56C1163.11,999.11 1165.10,1000.66 1167.10,1002.22C1169.10,1003.77 1171.10,1005.32 1173.09,1006.89C1175.09,1008.45 1177.09,1010.01 1179.08,1011.58C1181.08,1013.15 1183.08,1014.72 1185.07,1016.30C1187.07,1017.88 1189.07,1019.47 1191.06,1021.06C1193.06,1022.65 1195.06,1024.25 1197.06,1025.86C1199.05,1027.47 1201.05,1029.08 1203.05,1030.70C1205.04,1032.32 1207.04,1033.95 1209.04,1035.59C1211.03,1037.23 1213.03,1038.88 1215.03,1040.53C1217.02,1042.19 1219.02,1043.85 1221.02,1045.53C1223.02,1047.20 1225.01,1048.89 1227.01,1050.58C1229.01,1052.28 1231.00,1053.98 1233.00,1055.70C1235.00,1057.42 1236.99,1059.15 1238.99,1060.89C1240.99,1062.63 1242.98,1064.38 1244.98,1066.14C1246.98,1067.91 1248.98,1069.68 1250.97,1071.46C1252.97,1073.24 1254.97,1075.04 1256.96,1076.84C1258.96,1078.64 1260.96,1080.45 1262.95,1082.27C1264.95,1084.09 1266.95,1085.92 1268.94,1087.75C1270.94,1089.59 1272.94,1091.44 1274.94,1093.29C1276.93,1095.14 1278.93,1097.00 1280.93,1098.87C1282.92,1100.74 1284.92,1102.61 1286.92,1104.49C1288.91,1106.37 1290.91,1108.25 1292.91,1110.14C1294.90,1112.02 1296.90,1113.91 1298.90,1115.80C1300.90,1117.69 1302.89,1119.58 1304.89,1121.48C1306.89,1123.37 1308.88,1125.26 1310.88,1127.15C1312.88,1129.04 1314.87,1130.93 1316.87,1132.82C1318.87,1134.72 1320.87,1136.61 1322.86,1138.50C1324.86,1140.39 1326.86,1142.27 1328.85,1144.16C1330.85,1146.05 1332.85,1147.93 1334.84,1149.82C1336.84,1151.70 1338.84,1153.58 1340.83,1155.45C1342.83,1157.33 1344.83,1159.20 1346.83,1161.07C1348.82,1162.93 1350.82,1164.80 1352.82,1166.65C1354.81,1168.51 1356.81,1170.37 1358.81,1172.21C1360.80,1174.06 1362.80,1175.91 1364.80,1177.75C1366.79,1179.58 1368.79,1181.42 1370.79,1183.25C1372.79,1185.07 1374.78,1186.90 1376.78,1188.71C1378.78,1190.53 1380.77,1192.34 1382.77,1194.15C1384.77,1195.96 1386.76,1197.76 1388.76,1199.55C1390.76,1201.35 1392.75,1203.14 1394.75,1204.92C1396.75,1206.70 1398.75,1208.48 1400.74,1210.25C1402.74,1212.02 1404.74,1213.79 1406.73,1215.55C1408.73,1217.30 1410.73,1219.05 1412.72,1220.80C1414.72,1222.54 1416.72,1224.27 1418.71,1226.00C1420.71,1227.73 1422.71,1229.45 1424.71,1231.16C1426.70,1232.87 1428.70,1234.57 1430.70,1236.26C1432.69,1237.96 1434.69,1239.64 1436.69,1241.31C1438.68,1242.98 1440.68,1244.65 1442.68,1246.30C1444.67,1247.95 1446.67,1249.59 1448.67,1251.22C1450.67,1252.85 1452.66,1254.47 1454.66,1256.08C1456.66,1257.69 1458.65,1259.28 1460.65,1260.87C1462.65,1262.45 1464.64,1264.02 1466.64,1265.58C1468.64,1267.14 1470.63,1268.69 1472.63,1270.22C1474.63,1271.76 1476.63,1273.28 1478.62,1274.79C1480.62,1276.29 1482.62,1277.79 1484.61,1279.27C1486.61,1280.75 1488.61,1282.22 1490.60,1283.67C1492.60,1285.13 1494.60,1286.57 1496.60,1288.00C1498.59,1289.42 1500.59,1290.83 1502.59,1292.23C1504.58,1293.63 1506.58,1295.02 1508.58,1296.39C1510.57,1297.76 1512.57,1299.12 1514.57,1300.46C1516.56,1301.80 1518.56,1303.13 1520.56,1304.45C1522.56,1305.77 1524.55,1307.07 1526.55,1308.36C1528.55,1309.64 1530.54,1310.92 1532.54,1312.18C1534.54,1313.44 1536.53,1314.69 1538.53,1315.92C1540.53,1317.16 1542.52,1318.38 1544.52,1319.59C1546.52,1320.80 1548.52,1322.00 1550.51,1323.18C1552.51,1324.37 1554.51,1325.54 1556.50,1326.71C1558.50,1327.87 1560.50,1329.02 1562.49,1330.16C1564.49,1331.30 1566.49,1332.43 1568.48,1333.56C1570.48,1334.68 1572.48,1335.79 1574.48,1336.89C1576.47,1337.99 1578.47,1339.08 1580.47,1340.17C1582.46,1341.25 1584.46,1342.32 1586.46,1343.39C1588.45,1344.46 1590.45,1345.51 1592.45,1346.56C1594.44,1347.61 1596.44,1348.65 1598.44,1349.69C1600.44,1350.72 1602.43,1351.75 1604.43,1352.77C1606.43,1353.79 1608.42,1354.80 1610.42,1355.81C1612.42,1356.81 1614.41,1357.81 1616.41,1358.80C1618.41,1359.79 1620.40,1360.78 1622.40,1361.76C1624.40,1362.73 1626.40,1363.70 1628.39,1364.67C1630.39,1365.63 1632.39,1366.59 1634.38,1367.54C1636.38,1368.49 1638.38,1369.43 1640.37,1370.37C1642.37,1371.31 1644.37,1372.24 1646.37,1373.16C1648.36,1374.08 1650.36,1374.99 1652.36,1375.90C1654.35,1376.81 1656.35,1377.71 1658.35,1378.60C1660.34,1379.49 1662.34,1380.37 1664.34,1381.25C1666.33,1382.13 1668.33,1382.99 1670.33,1383.85C1672.33,1384.71 1674.32,1385.56 1676.32,1386.41C1678.32,1387.25 1680.31,1388.08 1682.31,1388.91C1684.31,1389.74 1686.30,1390.55 1688.30,1391.36C1690.30,1392.17 1692.29,1392.97 1694.29,1393.76C1696.29,1394.56 1698.29,1395.34 1700.28,1396.12C1702.28,1396.89 1704.28,1397.66 1706.27,1398.42C1708.27,1399.18 1710.27,1399.93 1712.26,1400.67C1714.26,1401.41 1716.26,1402.15 1718.25,1402.88C1720.25,1403.60 1722.25,1404.32 1724.25,1405.04C1726.24,1405.75 1728.24,1406.45 1730.24,1407.15C1732.23,1407.85 1734.23,1408.54 1736.23,1409.22C1738.22,1409.90 1740.22,1410.58 1742.22,1411.25C1744.21,1411.92 1746.21,1412.58 1748.21,1413.23C1750.21,1413.89 1752.20,1414.54 1754.20,1415.18C1756.20,1415.82 1758.19,1416.46 1760.19,1417.09C1762.19,1417.72 1764.18,1418.34 1766.18,1418.95C1768.18,1419.57 1770.17,1420.18 1772.17,1420.78C1774.17,1421.39 1776.17,1421.99 1778.16,1422.58C1780.16,1423.17 1782.16,1423.76 1784.15,1424.34C1786.15,1424.92 1788.15,1425.49 1790.14,1426.06C1792.14,1426.63 1794.14,1427.19 1796.13,1427.75C1798.13,1428.31 1800.13,1428.86 1802.13,1429.41C1804.12,1429.95 1806.12,1430.49 1808.12,1431.03C1810.11,1431.56 1812.11,1432.09 1814.11,1432.61C1816.10,1433.13 1818.10,1433.65 1820.10,1434.16C1822.10,1434.67 1824.09,1435.18 1826.09,1435.68C1828.09,1436.18 1830.08,1436.67 1832.08,1437.16C1834.08,1437.65 1836.07,1438.14 1838.07,1438.62C1840.07,1439.10 1842.06,1439.58 1844.06,1440.05C1846.06,1440.53 1848.06,1441.00 1850.05,1441.46C1852.05,1441.93 1854.05,1442.39 1856.04,1442.85C1858.04,1443.31 1860.04,1443.77 1862.03,1444.22C1864.03,1444.68 1866.03,1445.13 1868.02,1445.58C1870.02,1446.03 1872.02,1446.48 1874.02,1446.93C1876.01,1447.38 1878.01,1447.83 1880.01,1448.27C1882.00,1448.72 1884.00,1449.16 1886.00,1449.61C1887.99,1450.05 1889.99,1450.50 1891.99,1450.94C1893.98,1451.39 1895.98,1451.83 1897.98,1452.28C1899.98,1452.72 1901.97,1453.16 1903.97,1453.61C1905.97,1454.05 1907.96,1454.49 1909.96,1454.94C1911.96,1455.38 1913.95,1455.82 1915.95,1456.26C1917.95,1456.70 1919.94,1457.14 1921.94,1457.58C1923.94,1458.01 1925.94,1458.45 1927.93,1458.89C1929.93,1459.32 1931.93,1459.76 1933.92,1460.19C1935.92,1460.62 1937.92,1461.05 1939.91,1461.48C1941.91,1461.91 1943.91,1462.34 1945.90,1462.76C1947.90,1463.18 1949.90,1463.61 1951.90,1464.02C1953.89,1464.44 1955.89,1464.86 1957.89,1465.28C1959.88,1465.69 1961.88,1466.10 1963.88,1466.51C1965.87,1466.92 1967.87,1467.33 1969.87,1467.73C1971.87,1468.14 1973.86,1468.54 1975.86,1468.94C1977.86,1469.33 1979.85,1469.73 1981.85,1470.12C1983.85,1470.51 1985.84,1470.90 1987.84,1471.28C1989.84,1471.67 1991.83,1472.05 1993.83,1472.42C1995.83,1472.80 1997.83,1473.17 1999.82,1473.54C2001.82,1473.91 2003.82,1474.28 2005.81,1474.64C2007.81,1475.01 2009.81,1475.36 2011.80,1475.72C2013.80,1476.08 2015.80,1476.43 2017.79,1476.78C2019.79,1477.13 2021.79,1477.47 2023.79,1477.81C2025.78,1478.15 2027.78,1478.49 2029.78,1478.83C2031.77,1479.16 2033.77,1479.49 2035.77,1479.82C2037.76,1480.15 2039.76,1480.47 2041.76,1480.79C2043.75,1481.11 2045.75,1481.43 2047.75,1481.74C2049.75,1482.06 2051.74,1482.37 2053.74,1482.68C2055.74,1482.98 2057.73,1483.29 2059.73,1483.59C2061.73,1483.89 2063.72,1484.18 2065.72,1484.48C2067.72,1484.77 2069.71,1485.06 2071.71,1485.35C2073.71,1485.63 2075.71,1485.92 2077.70,1486.20C2079.70,1486.48 2081.70,1486.76 2083.69,1487.03C2085.69,1487.31 2087.69,1487.58 2089.68,1487.85C2091.68,1488.12 2093.68,1488.39 2095.67,1488.65C2097.67,1488.91 2099.67,1489.18 2101.67,1489.43C2103.66,1489.69 2105.66,1489.95 2107.66,1490.20C2109.65,1490.46 2111.65,1490.71 2113.65,1490.96C2115.64,1491.21 2117.64,1491.45 2119.64,1491.70C2121.63,1491.94 2123.63,1492.18 2125.63,1492.42C2127.63,1492.66 2129.62,1492.90 2131.62,1493.13C2133.62,1493.37 2135.61,1493.60 2137.61,1493.83C2139.61,1494.06 2141.60,1494.29 2143.60,1494.52C2145.60,1494.75 2147.60,1494.97 2149.59,1495.20C2151.59,1495.42 2153.59,1495.64 2155.58,1495.86C2157.58,1496.09 2159.58,1496.30 2161.57,1496.52C2163.57,1496.74 2165.57,1496.96 2167.56,1497.17C2169.56,1497.39 2171.56,1497.61 2173.56,1497.82C2175.55,1498.03 2177.55,1498.25 2179.55,1498.46C2181.54,1498.67 2183.54,1498.89 2185.54,1499.10C2187.53,1499.31 2189.53,1499.52 2191.53,1499.73C2193.52,1499.94 2195.52,1500.15 2197.52,1500.36C2199.52,1500.58 2201.51,1500.79 2203.51,1501.00C2205.51,1501.21 2207.50,1501.42 2209.50,1501.63"/>
<path stroke="#31C16A" d="M256.50,1232.32C258.50,1235.25 260.49,1238.17 262.49,1241.10C264.49,1244.03 266.48,1246.95 268.48,1249.87C270.48,1252.79 272.48,1255.70 274.47,1258.60C276.47,1261.50 278.47,1264.39 280.46,1267.25C282.46,1270.11 284.46,1272.94 286.45,1275.74C288.45,1278.54 290.45,1281.29 292.44,1284.00C294.44,1286.71 296.44,1289.37 298.44,1291.97C300.43,1294.57 302.43,1297.11 304.43,1299.59C306.42,1302.06 308.42,1304.46 310.42,1306.79C312.41,1309.12 314.41,1311.37 316.41,1313.53C318.40,1315.70 320.40,1317.78 322.40,1319.77C324.40,1321.76 326.39,1323.66 328.39,1325.47C330.39,1327.28 332.38,1329.00 334.38,1330.62C336.38,1332.24 338.37,1333.77 340.37,1335.20C342.37,1336.63 344.37,1337.97 346.36,1339.20C348.36,1340.44 350.36,1341.58 352.35,1342.61C354.35,1343.64 356.35,1344.57 358.34,1345.40C360.34,1346.23 362.34,1346.95 364.33,1347.56C366.33,1348.17 368.33,1348.68 370.33,1349.06C372.32,1349.45 374.32,1349.72 376.32,1349.87C378.31,1350.01 380.31,1350.03 382.31,1349.92C384.30,1349.80 386.30,1349.55 388.30,1349.15C390.29,1348.75 392.29,1348.21 394.29,1347.52C396.29,1346.83 398.28,1345.98 400.28,1344.98C402.28,1343.97 404.27,1342.81 406.27,1341.49C408.27,1340.17 410.26,1338.69 412.26,1337.05C414.26,1335.41 416.25,1333.62 418.25,1331.66C420.25,1329.71 422.25,1327.60 424.24,1325.33C426.24,1323.07 428.24,1320.65 430.23,1318.07C432.23,1315.50 434.23,1312.77 436.22,1309.89C438.22,1307.01 440.22,1303.98 442.21,1300.79C444.21,1297.61 446.21,1294.27 448.21,1290.79C450.20,1287.32 452.20,1283.71 454.20,1279.98C456.19,1276.25 458.19,1272.40 460.19,1268.43C462.18,1264.47 464.18,1260.40 466.18,1256.23C468.17,1252.06 470.17,1247.80 472.17,1243.45C474.17,1239.11 476.16,1234.68 478.16,1230.19C480.16,1225.70 482.15,1221.14 484.15,1216.52C486.15,1211.90 488.14,1207.23 490.14,1202.52C492.14,1197.80 494.13,1193.04 496.13,1188.24C498.13,1183.45 500.13,1178.62 502.12,1173.76C504.12,1168.91 506.12,1164.02 508.11,1159.12C510.11,1154.22 512.11,1149.29 514.10,1144.34C516.10,1139.40 518.10,1134.43 520.10,1129.45C522.09,1124.47 524.09,1119.47 526.09,1114.46C528.08,1109.45 530.08,1104.43 532.08,1099.39C534.07,1094.35 536.07,1089.30 538.07,1084.24C540.06,1079.17 542.06,1074.10 544.06,1069.03C546.06,1063.95 548.05,1058.87 550.05,1053.79C552.05,1048.71 554.04,1043.63 556.04,1038.56C558.04,1033.49 560.03,1028.42 562.03,1023.36C564.03,1018.30 566.02,1013.26 568.02,1008.23C570.02,1003.19 572.02,998.18 574.01,993.18C576.01,988.19 578.01,983.21 580.00,978.26C582.00,973.31 584.00,968.38 585.99,963.48C587.99,958.58 589.99,953.71 591.98,948.86C593.98,944.02 595.98,939.21 597.98,934.45C599.97,929.68 601.97,924.95 603.97,920.28C605.96,915.61 607.96,910.99 609.96,906.43C611.95,901.87 613.95,897.37 615.95,892.94C617.94,888.51 619.94,884.15 621.94,879.87C623.94,875.58 625.93,871.37 627.93,867.23C629.93,863.09 631.92,859.03 633.92,855.05C635.92,851.06 637.91,847.16 639.91,843.32C641.91,839.48 643.90,835.71 645.90,832.01C647.90,828.32 649.90,824.69 651.89,821.12C653.89,817.55 655.89,814.04 657.88,810.59C659.88,807.13 661.88,803.74 663.87,800.39C665.87,797.05 667.87,793.76 669.87,790.52C671.86,787.28 673.86,784.10 675.86,780.97C677.85,777.84 679.85,774.77 681.85,771.76C683.84,768.76 685.84,765.81 687.84,762.92C689.83,760.04 691.83,757.22 693.83,754.47C695.83,751.72 697.82,749.03 699.82,746.42C701.82,743.80 703.81,741.26 705.81,738.79C707.81,736.32 709.80,733.92 711.80,731.59C713.80,729.25 715.79,726.99 717.79,724.80C719.79,722.60 721.79,720.48 723.78,718.44C725.78,716.40 727.78,714.44 729.77,712.55C731.77,710.66 733.77,708.85 735.76,707.11C737.76,705.36 739.76,703.69 741.75,702.09C743.75,700.49 745.75,698.97 747.75,697.53C749.74,696.09 751.74,694.73 753.74,693.45C755.73,692.16 757.73,690.95 759.73,689.81C761.72,688.67 763.72,687.60 765.72,686.59C767.71,685.58 769.71,684.63 771.71,683.75C773.71,682.86 775.70,682.04 777.70,681.28C779.70,680.51 781.69,679.81 783.69,679.16C785.69,678.51 787.68,677.92 789.68,677.39C791.68,676.85 793.67,676.38 795.67,675.98C797.67,675.57 799.67,675.23 801.66,674.96C803.66,674.68 805.66,674.47 807.65,674.34C809.65,674.20 811.65,674.13 813.64,674.14C815.64,674.15 817.64,674.23 819.63,674.38C821.63,674.53 823.63,674.75 825.63,675.04C827.62,675.33 829.62,675.68 831.62,676.10C833.61,676.52 835.61,677.00 837.61,677.54C839.60,678.08 841.60,678.68 843.60,679.34C845.60,679.99 847.59,680.71 849.59,681.47C851.59,682.23 853.58,683.05 855.58,683.91C857.58,684.77 859.57,685.68 861.57,686.63C863.57,687.59 865.56,688.59 867.56,689.63C869.56,690.67 871.56,691.76 873.55,692.89C875.55,694.01 877.55,695.18 879.54,696.39C881.54,697.59 883.54,698.84 885.53,700.12C887.53,701.40 889.53,702.72 891.52,704.07C893.52,705.42 895.52,706.80 897.52,708.22C899.51,709.63 901.51,711.08 903.51,712.55C905.50,714.03 907.50,715.53 909.50,717.06C911.49,718.59 913.49,720.15 915.49,721.73C917.48,723.31 919.48,724.91 921.48,726.52C923.48,728.14 925.47,729.77 927.47,731.42C929.47,733.06 931.46,734.72 933.46,736.38C935.46,738.05 937.45,739.72 939.45,741.40C941.45,743.08 943.44,744.76 945.44,746.43C947.44,748.11 949.44,749.79 951.43,751.47C953.43,753.14 955.43,754.81 957.42,756.48C959.42,758.15 961.42,759.82 963.41,761.48C965.41,763.15 967.41,764.81 969.40,766.48C971.40,768.14 973.40,769.81 975.40,771.48C977.39,773.14 979.39,774.81 981.39,776.48C983.38,778.15 985.38,779.83 987.38,781.51C989.37,783.18 991.37,784.87 993.37,786.55C995.37,788.24 997.36,789.93 999.36,791.63C1001.36,793.32 1003.35,795.03 1005.35,796.73C1007.35,798.44 1009.34,800.16 1011.34,801.88C1013.34,803.60 1015.33,805.32 1017.33,807.05C1019.33,808.78 1021.33,810.52 1023.32,812.26C1025.32,814.00 1027.32,815.74 1029.31,817.48C1031.31,819.23 1033.31,820.98 1035.30,822.73C1037.30,824.49 1039.30,826.24 1041.29,828.00C1043.29,829.76 1045.29,831.52 1047.29,833.28C1049.28,835.05 1051.28,836.81 1053.28,838.58C1055.27,840.34 1057.27,842.11 1059.27,843.88C1061.26,845.65 1063.26,847.43 1065.26,849.20C1067.25,850.98 1069.25,852.76 1071.25,854.55C1073.25,856.34 1075.24,858.13 1077.24,859.93C1079.24,861.73 1081.23,863.54 1083.23,865.36C1085.23,867.18 1087.22,869.00 1089.22,870.84C1091.22,872.67 1093.21,874.52 1095.21,876.38C1097.21,878.23 1099.21,880.10 1101.20,881.98C1103.20,883.86 1105.20,885.75 1107.19,887.66C1109.19,889.56 1111.19,891.48 1113.18,893.41C1115.18,895.34 1117.18,897.28 1119.17,899.23C1121.17,901.18 1123.17,903.14 1125.17,905.11C1127.16,907.08 1129.16,909.05 1131.16,911.03C1133.15,913.02 1135.15,915.01 1137.15,917.00C1139.14,919.00 1141.14,921.00 1143.14,923.01C1145.13,925.01 1147.13,927.02 1149.13,929.04C1151.13,931.05 1153.12,933.07 1155.12,935.09C1157.12,937.10 1159.11,939.13 1161.11,941.15C1163.11,943.17 1165.10,945.20 1167.10,947.22C1169.10,949.25 1171.10,951.28 1173.09,953.31C1175.09,955.34 1177.09,957.37 1179.08,959.40C1181.08,961.44 1183.08,963.47 1185.07,965.51C1187.07,967.55 1189.07,969.59 1191.06,971.63C1193.06,973.67 1195.06,975.72 1197.06,977.76C1199.05,979.81 1201.05,981.86 1203.05,983.91C1205.04,985.96 1207.04,988.01 1209.04,990.07C1211.03,992.12 1213.03,994.18 1215.03,996.24C1217.02,998.30 1219.02,1000.36 1221.02,1002.43C1223.02,1004.50 1225.01,1006.57 1227.01,1008.65C1229.01,1010.73 1231.00,1012.82 1233.00,1014.91C1235.00,1017.00 1236.99,1019.10 1238.99,1021.20C1240.99,1023.31 1242.98,1025.43 1244.98,1027.55C1246.98,1029.67 1248.98,1031.81 1250.97,1033.95C1252.97,1036.09 1254.97,1038.25 1256.96,1040.41C1258.96,1042.57 1260.96,1044.74 1262.95,1046.93C1264.95,1049.11 1266.95,1051.30 1268.94,1053.50C1270.94,1055.71 1272.94,1057.92 1274.94,1060.14C1276.93,1062.36 1278.93,1064.59 1280.93,1066.83C1282.92,1069.08 1284.92,1071.33 1286.92,1073.59C1288.91,1075.85 1290.91,1078.12 1292.91,1080.40C1294.90,1082.68 1296.90,1084.98 1298.90,1087.28C1300.90,1089.58 1302.89,1091.89 1304.89,1094.21C1306.89,1096.53 1308.88,1098.86 1310.88,1101.19C1312.88,1103.53 1314.87,1105.87 1316.87,1108.22C1318.87,1110.57 1320.87,1112.92 1322.86,1115.28C1324.86,1117.64 1326.86,1120.01 1328.85,1122.38C1330.85,1124.74 1332.85,1127.11 1334.84,1129.48C1336.84,1131.85 1338.84,1134.22 1340.83,1136.59C1342.83,1138.96 1344.83,1141.33 1346.83,1143.69C1348.82,1146.06 1350.82,1148.42 1352.82,1150.78C1354.81,1153.13 1356.81,1155.48 1358.81,1157.83C1360.80,1160.17 1362.80,1162.50 1364.80,1164.83C1366.79,1167.15 1368.79,1169.47 1370.79,1171.77C1372.79,1174.07 1374.78,1176.36 1376.78,1178.64C1378.78,1180.91 1380.77,1183.17 1382.77,1185.42C1384.77,1187.67 1386.76,1189.91 1388.76,1192.13C1390.76,1194.35 1392.75,1196.55 1394.75,1198.75C1396.75,1200.94 1398.75,1203.11 1400.74,1205.28C1402.74,1207.44 1404.74,1209.59 1406.73,1211.72C1408.73,1213.86 1410.73,1215.98 1412.72,1218.08C1414.72,1220.19 1416.72,1222.28 1418.71,1224.35C1420.71,1226.43 1422.71,1228.48 1424.71,1230.53C1426.70,1232.57 1428.70,1234.60 1430.70,1236.61C1432.69,1238.63 1434.69,1240.62 1436.69,1242.61C1438.68,1244.59 1440.68,1246.56 1442.68,1248.51C1444.67,1250.46 1446.67,1252.40 1448.67,1254.32C1450.67,1256.24 1452.66,1258.15 1454.66,1260.04C1456.66,1261.93 1458.65,1263.81 1460.65,1265.68C1462.65,1267.54 1464.64,1269.39 1466.64,1271.23C1468.64,1273.06 1470.63,1274.88 1472.63,1276.69C1474.63,1278.50 1476.63,1280.29 1478.62,1282.07C1480.62,1283.85 1482.62,1285.62 1484.61,1287.37C1486.61,1289.12 1488.61,1290.86 1490.60,1292.58C1492.60,1294.31 1494.60,1296.02 1496.60,1297.72C1498.59,1299.41 1500.59,1301.10 1502.59,1302.77C1504.58,1304.44 1506.58,1306.09 1508.58,1307.74C1510.57,1309.38 1512.57,1311.01 1514.57,1312.63C1516.56,1314.24 1518.56,1315.84 1520.56,1317.43C1522.56,1319.02 1524.55,1320.59 1526.55,1322.15C1528.55,1323.70 1530.54,1325.25 1532.54,1326.77C1534.54,1328.30 1536.53,1329.81 1538.53,1331.31C1540.53,1332.80 1542.52,1334.28 1544.52,1335.75C1546.52,1337.21 1548.52,1338.66 1550.51,1340.08C1552.51,1341.51 1554.51,1342.92 1556.50,1344.31C1558.50,1345.71 1560.50,1347.08 1562.49,1348.44C1564.49,1349.80 1566.49,1351.14 1568.48,1352.47C1570.48,1353.80 1572.48,1355.11 1574.48,1356.40C1576.47,1357.69 1578.47,1358.97 1580.47,1360.23C1582.46,1361.50 1584.46,1362.74 1586.46,1363.98C1588.45,1365.21 1590.45,1366.43 1592.45,1367.63C1594.44,1368.84 1596.44,1370.03 1598.44,1371.21C1600.44,1372.38 1602.43,1373.55 1604.43,1374.70C1606.43,1375.85 1608.42,1376.99 1610.42,1378.11C1612.42,1379.24 1614.41,1380.35 1616.41,1381.46C1618.41,1382.56 1620.40,1383.65 1622.40,1384.72C1624.40,1385.80 1626.40,1386.87 1628.39,1387.92C1630.39,1388.98 1632.39,1390.02 1634.38,1391.06C1636.38,1392.09 1638.38,1393.11 1640.37,1394.12C1642.37,1395.13 1644.37,1396.13 1646.37,1397.12C1648.36,1398.11 1650.36,1399.09 1652.36,1400.05C1654.35,1401.02 1656.35,1401.97 1658.35,1402.92C1660.34,1403.86 1662.34,1404.80 1664.34,1405.72C1666.33,1406.64 1668.33,1407.56 1670.33,1408.46C1672.33,1409.36 1674.32,1410.25 1676.32,1411.13C1678.32,1412.02 1680.31,1412.89 1682.31,1413.75C1684.31,1414.61 1686.30,1415.47 1688.30,1416.31C1690.30,1417.15 1692.29,1417.99 1694.29,1418.81C1696.29,1419.64 1698.29,1420.45 1700.28,1421.26C1702.28,1422.07 1704.28,1422.87 1706.27,1423.66C1708.27,1424.46 1710.27,1425.24 1712.26,1426.02C1714.26,1426.80 1716.26,1427.58 1718.25,1428.34C1720.25,1429.11 1722.25,1429.87 1724.25,1430.63C1726.24,1431.38 1728.24,1432.13 1730.24,1432.88C1732.23,1433.62 1734.23,1434.36 1736.23,1435.10C1738.22,1435.83 1740.22,1436.56 1742.22,1437.29C1744.21,1438.02 1746.21,1438.74 1748.21,1439.46C1750.21,1440.18 1752.20,1440.90 1754.20,1441.61C1756.20,1442.32 1758.19,1443.03 1760.19,1443.74C1762.19,1444.45 1764.18,1445.15 1766.18,1445.85C1768.18,1446.55 1770.17,1447.25 1772.17,1447.94C1774.17,1448.64 1776.17,1449.33 1778.16,1450.02C1780.16,1450.71 1782.16,1451.39 1784.15,1452.07C1786.15,1452.75 1788.15,1453.43 1790.14,1454.11C1792.14,1454.78 1794.14,1455.45 1796.13,1456.12C1798.13,1456.79 1800.13,1457.45 1802.13,1458.11C1804.12,1458.77 1806.12,1459.43 1808.12,1460.08C1810.11,1460.73 1812.11,1461.38 1814.11,1462.02C1816.10,1462.66 1818.10,1463.29 1820.10,1463.92C1822.10,1464.55 1824.09,1465.18 1826.09,1465.80C1828.09,1466.42 1830.08,1467.03 1832.08,1467.63C1834.08,1468.24 1836.07,1468.84 1838.07,1469.43C1840.07,1470.02 1842.06,1470.60 1844.06,1471.18C1846.06,1471.75 1848.06,1472.32 1850.05,1472.88C1852.05,1473.44 1854.05,1473.99 1856.04,1474.53C1858.04,1475.08 1860.04,1475.61 1862.03,1476.14C1864.03,1476.66 1866.03,1477.18 1868.02,1477.69C1870.02,1478.20 1872.02,1478.70 1874.02,1479.20C1876.01,1479.69 1878.01,1480.17 1880.01,1480.65C1882.00,1481.13 1884.00,1481.59 1886.00,1482.05C1887.99,1482.51 1889.99,1482.96 1891.99,1483.40C1893.98,1483.85 1895.98,1484.28 1897.98,1484.70C1899.98,1485.13 1901.97,1485.55 1903.97,1485.96C1905.97,1486.37 1907.96,1486.77 1909.96,1487.16C1911.96,1487.56 1913.95,1487.95 1915.95,1488.33C1917.95,1488.71 1919.94,1489.08 1921.94,1489.45C1923.94,1489.82 1925.94,1490.18 1927.93,1490.53C1929.93,1490.88 1931.93,1491.23 1933.92,1491.57C1935.92,1491.92 1937.92,1492.25 1939.91,1492.58C1941.91,1492.91 1943.91,1493.24 1945.90,1493.56C1947.90,1493.88 1949.90,1494.19 1951.90,1494.50C1953.89,1494.81 1955.89,1495.12 1957.89,1495.42C1959.88,1495.72 1961.88,1496.01 1963.88,1496.31C1965.87,1496.60 1967.87,1496.89 1969.87,1497.17C1971.87,1497.45 1973.86,1497.74 1975.86,1498.01C1977.86,1498.29 1979.85,1498.57 1981.85,1498.84C1983.85,1499.11 1985.84,1499.38 1987.84,1499.65C1989.84,1499.92 1991.83,1500.18 1993.83,1500.44C1995.83,1500.71 1997.83,1500.97 1999.82,1501.23C2001.82,1501.49 2003.82,1501.74 2005.81,1502.00C2007.81,1502.26 2009.81,1502.51 2011.80,1502.76C2013.80,1503.02 2015.80,1503.27 2017.79,1503.52C2019.79,1503.77 2021.79,1504.02 2023.79,1504.27C2025.78,1504.52 2027.78,1504.77 2029.78,1505.01C2031.77,1505.26 2033.77,1505.51 2035.77,1505.75C2037.76,1506.00 2039.76,1506.24 2041.76,1506.49C2043.75,1506.73 2045.75,1506.97 2047.75,1507.21C2049.75,1507.45 2051.74,1507.69 2053.74,1507.93C2055.74,1508.17 2057.73,1508.41 2059.73,1508.65C2061.73,1508.89 2063.72,1509.12 2065.72,1509.36C2067.72,1509.60 2069.71,1509.83 2071.71,1510.07C2073.71,1510.30 2075.71,1510.53 2077.70,1510.76C2079.70,1511.00 2081.70,1511.23 2083.69,1511.46C2085.69,1511.69 2087.69,1511.91 2089.68,1512.14C2091.68,1512.37 2093.68,1512.59 2095.67,1512.82C2097.67,1513.04 2099.67,1513.27 2101.67,1513.49C2103.66,1513.71 2105.66,1513.93 2107.66,1514.15C2109.65,1514.37 2111.65,1514.59 2113.65,1514.81C2115.64,1515.02 2117.64,1515.24 2119.64,1515.46C2121.63,1515.67 2123.63,1515.89 2125.63,1516.10C2127.63,1516.31 2129.62,1516.52 2131.62,1516.74C2133.62,1516.95 2135.61,1517.16 2137.61,1517.37C2139.61,1517.58 2141.60,1517.79 2143.60,1518.00C2145.60,1518.21 2147.60,1518.41 2149.59,1518.62C2151.59,1518.83 2153.59,1519.04 2155.58,1519.24C2157.58,1519.45 2159.58,1519.66 2161.57,1519.86C2163.57,1520.07 2165.57,1520.27 2167.56,1520.48C2169.56,1520.68 2171.56,1520.88 2173.56,1521.09C2175.55,1521.29 2177.55,1521.50 2179.55,1521.70C2181.54,1521.90 2183.54,1522.11 2185.54,1522.31C2187.53,1522.52 2189.53,1522.72 2191.53,1522.92C2193.52,1523.12 2195.52,1523.33 2197.52,1523.53C2199.52,1523.73 2201.51,1523.94 2203.51,1524.14C2205.51,1524.34 2207.50,1524.55 2209.50,1524.75"/>
<path stroke="#5C5C9A" d="M256.50,1139.92C258.50,1143.21 260.49,1146.51 262.49,1149.80C264.49,1153.10 266.48,1156.39 268.48,1159.67C270.48,1162.96 272.48,1166.24 274.47,1169.50C276.47,1172.77 278.47,1176.02 280.46,1179.26C282.46,1182.49 284.46,1185.71 286.45,1188.89C288.45,1192.08 290.45,1195.23 292.44,1198.35C294.44,1201.46 296.44,1204.54 298.44,1207.58C300.43,1210.61 302.43,1213.61 304.43,1216.55C306.42,1219.49 308.42,1222.39 310.42,1225.22C312.41,1228.06 314.41,1230.84 316.41,1233.55C318.40,1236.27 320.40,1238.92 322.40,1241.50C324.40,1244.08 326.39,1246.58 328.39,1248.99C330.39,1251.40 332.38,1253.72 334.38,1255.94C336.38,1258.15 338.37,1260.26 340.37,1262.26C342.37,1264.26 344.37,1266.15 346.36,1267.93C348.36,1269.70 350.36,1271.36 352.35,1272.89C354.35,1274.42 356.35,1275.83 358.34,1277.11C360.34,1278.39 362.34,1279.54 364.33,1280.54C366.33,1281.55 368.33,1282.42 370.33,1283.15C372.32,1283.87 374.32,1284.45 376.32,1284.87C378.31,1285.29 380.31,1285.56 382.31,1285.66C384.30,1285.77 386.30,1285.71 388.30,1285.47C390.29,1285.23 392.29,1284.83 394.29,1284.24C396.29,1283.66 398.28,1282.90 400.28,1281.96C402.28,1281.02 404.27,1279.90 406.27,1278.60C408.27,1277.30 410.26,1275.82 412.26,1274.16C414.26,1272.50 416.25,1270.66 418.25,1268.65C420.25,1266.64 422.25,1264.46 424.24,1262.12C426.24,1259.77 428.24,1257.26 430.23,1254.59C432.23,1251.92 434.23,1249.10 436.22,1246.11C438.22,1243.13 440.22,1240.00 442.21,1236.71C444.21,1233.43 446.21,1230.00 448.21,1226.43C450.20,1222.87 452.20,1219.16 454.20,1215.34C456.19,1211.51 458.19,1207.56 460.19,1203.50C462.18,1199.43 464.18,1195.26 466.18,1190.98C468.17,1186.70 470.17,1182.32 472.17,1177.85C474.17,1173.38 476.16,1168.81 478.16,1164.17C480.16,1159.52 482.15,1154.79 484.15,1149.98C486.15,1145.18 488.14,1140.29 490.14,1135.35C492.14,1130.40 494.13,1125.38 496.13,1120.31C498.13,1115.23 500.13,1110.10 502.12,1104.92C504.12,1099.74 506.12,1094.51 508.11,1089.24C510.11,1083.97 512.11,1078.66 514.10,1073.33C516.10,1067.99 518.10,1062.63 520.10,1057.24C522.09,1051.86 524.09,1046.45 526.09,1041.03C528.08,1035.61 530.08,1030.17 532.08,1024.71C534.07,1019.25 536.07,1013.78 538.07,1008.30C540.06,1002.82 542.06,997.33 544.06,991.83C546.06,986.33 548.05,980.83 550.05,975.33C552.05,969.82 554.04,964.31 556.04,958.81C558.04,953.31 560.03,947.82 562.03,942.33C564.03,936.85 566.02,931.38 568.02,925.94C570.02,920.49 572.02,915.07 574.01,909.68C576.01,904.29 578.01,898.93 580.00,893.61C582.00,888.30 584.00,883.02 585.99,877.79C587.99,872.56 589.99,867.37 591.98,862.23C593.98,857.10 595.98,852.01 597.98,846.98C599.97,841.94 601.97,836.96 603.97,832.04C605.96,827.11 607.96,822.24 609.96,817.42C611.95,812.60 613.95,807.84 615.95,803.13C617.94,798.43 619.94,793.78 621.94,789.18C623.94,784.59 625.93,780.06 627.93,775.58C629.93,771.11 631.92,766.69 633.92,762.33C635.92,757.98 637.91,753.69 639.91,749.45C641.91,745.22 643.90,741.06 645.90,736.95C647.90,732.85 649.90,728.81 651.89,724.84C653.89,720.87 655.89,716.98 657.88,713.16C659.88,709.34 661.88,705.59 663.87,701.93C665.87,698.27 667.87,694.70 669.87,691.20C671.86,687.71 673.86,684.30 675.86,680.98C677.85,677.66 679.85,674.42 681.85,671.28C683.84,668.13 685.84,665.07 687.84,662.11C689.83,659.14 691.83,656.25 693.83,653.45C695.83,650.66 697.82,647.95 699.82,645.33C701.82,642.70 703.81,640.17 705.81,637.72C707.81,635.27 709.80,632.90 711.80,630.61C713.80,628.31 715.79,626.10 717.79,623.95C719.79,621.81 721.79,619.73 723.78,617.71C725.78,615.70 727.78,613.75 729.77,611.85C731.77,609.96 733.77,608.12 735.76,606.35C737.76,604.58 739.76,602.87 741.75,601.23C743.75,599.59 745.75,598.01 747.75,596.50C749.74,595.00 751.74,593.56 753.74,592.19C755.73,590.82 757.73,589.52 759.73,588.28C761.72,587.05 763.72,585.89 765.72,584.79C767.71,583.69 769.71,582.66 771.71,581.70C773.71,580.73 775.70,579.83 777.70,578.99C779.70,578.15 781.69,577.38 783.69,576.67C785.69,575.95 787.68,575.30 789.68,574.72C791.68,574.13 793.67,573.61 795.67,573.15C797.67,572.70 799.67,572.31 801.66,571.99C803.66,571.67 805.66,571.42 807.65,571.23C809.65,571.05 811.65,570.93 813.64,570.88C815.64,570.84 817.64,570.85 819.63,570.94C821.63,571.03 823.63,571.18 825.63,571.40C827.62,571.62 829.62,571.91 831.62,572.26C833.61,572.61 835.61,573.02 837.61,573.49C839.60,573.96 841.60,574.50 843.60,575.09C845.60,575.68 847.59,576.32 849.59,577.02C851.59,577.71 853.58,578.45 855.58,579.23C857.58,580.02 859.57,580.85 861.57,581.72C863.57,582.59 865.56,583.50 867.56,584.44C869.56,585.39 871.56,586.37 873.55,587.39C875.55,588.41 877.55,589.46 879.54,590.54C881.54,591.62 883.54,592.73 885.53,593.86C887.53,595.00 889.53,596.16 891.52,597.35C893.52,598.54 895.52,599.75 897.52,600.97C899.51,602.20 901.51,603.45 903.51,604.72C905.50,605.98 907.50,607.27 909.50,608.56C911.49,609.86 913.49,611.17 915.49,612.49C917.48,613.81 919.48,615.15 921.48,616.50C923.48,617.85 925.47,619.21 927.47,620.59C929.47,621.96 931.46,623.35 933.46,624.75C935.46,626.16 937.45,627.57 939.45,629.00C941.45,630.42 943.44,631.86 945.44,633.31C947.44,634.76 949.44,636.22 951.43,637.69C953.43,639.16 955.43,640.65 957.42,642.14C959.42,643.63 961.42,645.14 963.41,646.65C965.41,648.17 967.41,649.69 969.40,651.23C971.40,652.76 973.40,654.31 975.40,655.86C977.39,657.42 979.39,658.98 981.39,660.56C983.38,662.13 985.38,663.71 987.38,665.31C989.37,666.90 991.37,668.50 993.37,670.11C995.37,671.72 997.36,673.34 999.36,674.97C1001.36,676.60 1003.35,678.23 1005.35,679.88C1007.35,681.52 1009.34,683.17 1011.34,684.83C1013.34,686.50 1015.33,688.16 1017.33,689.84C1019.33,691.52 1021.33,693.20 1023.32,694.89C1025.32,696.58 1027.32,698.28 1029.31,699.98C1031.31,701.69 1033.31,703.40 1035.30,705.11C1037.30,706.83 1039.30,708.55 1041.29,710.27C1043.29,712.00 1045.29,713.72 1047.29,715.45C1049.28,717.18 1051.28,718.92 1053.28,720.65C1055.27,722.39 1057.27,724.12 1059.27,725.86C1061.26,727.59 1063.26,729.33 1065.26,731.06C1067.25,732.80 1069.25,734.54 1071.25,736.27C1073.25,738.00 1075.24,739.73 1077.24,741.46C1079.24,743.19 1081.23,744.92 1083.23,746.64C1085.23,748.37 1087.22,750.09 1089.22,751.81C1091.22,753.52 1093.21,755.24 1095.21,756.95C1097.21,758.66 1099.21,760.38 1101.20,762.09C1103.20,763.81 1105.20,765.52 1107.19,767.24C1109.19,768.96 1111.19,770.68 1113.18,772.41C1115.18,774.14 1117.18,775.87 1119.17,777.61C1121.17,779.34 1123.17,781.09 1125.17,782.84C1127.16,784.59 1129.16,786.35 1131.16,788.11C1133.15,789.88 1135.15,791.65 1137.15,793.43C1139.14,795.22 1141.14,797.01 1143.14,798.81C1145.13,800.61 1147.13,802.41 1149.13,804.23C1151.13,806.05 1153.12,807.88 1155.12,809.71C1157.12,811.55 1159.11,813.39 1161.11,815.25C1163.11,817.11 1165.10,818.97 1167.10,820.85C1169.10,822.72 1171.10,824.61 1173.09,826.50C1175.09,828.40 1177.09,830.30 1179.08,832.22C1181.08,834.13 1183.08,836.05 1185.07,837.99C1187.07,839.92 1189.07,841.86 1191.06,843.81C1193.06,845.76 1195.06,847.72 1197.06,849.68C1199.05,851.65 1201.05,853.63 1203.05,855.62C1205.04,857.61 1207.04,859.60 1209.04,861.61C1211.03,863.62 1213.03,865.64 1215.03,867.68C1217.02,869.71 1219.02,871.75 1221.02,873.81C1223.02,875.87 1225.01,877.94 1227.01,880.02C1229.01,882.11 1231.00,884.21 1233.00,886.32C1235.00,888.43 1236.99,890.56 1238.99,892.70C1240.99,894.84 1242.98,897.00 1244.98,899.18C1246.98,901.35 1248.98,903.54 1250.97,905.76C1252.97,907.97 1254.97,910.19 1256.96,912.44C1258.96,914.69 1260.96,916.96 1262.95,919.24C1264.95,921.53 1266.95,923.83 1268.94,926.16C1270.94,928.49 1272.94,930.83 1274.94,933.20C1276.93,935.57 1278.93,937.96 1280.93,940.37C1282.92,942.78 1284.92,945.22 1286.92,947.67C1288.91,950.12 1290.91,952.58 1292.91,955.07C1294.90,957.56 1296.90,960.06 1298.90,962.58C1300.90,965.10 1302.89,967.64 1304.89,970.19C1306.89,972.74 1308.88,975.31 1310.88,977.89C1312.88,980.47 1314.87,983.06 1316.87,985.67C1318.87,988.28 1320.87,990.89 1322.86,993.52C1324.86,996.15 1326.86,998.79 1328.85,1001.44C1330.85,1004.09 1332.85,1006.75 1334.84,1009.41C1336.84,1012.08 1338.84,1014.75 1340.83,1017.43C1342.83,1020.10 1344.83,1022.79 1346.83,1025.48C1348.82,1028.17 1350.82,1030.86 1352.82,1033.56C1354.81,1036.25 1356.81,1038.95 1358.81,1041.66C1360.80,1044.36 1362.80,1047.06 1364.80,1049.77C1366.79,1052.47 1368.79,1055.18 1370.79,1057.89C1372.79,1060.59 1374.78,1063.30 1376.78,1066.00C1378.78,1068.71 1380.77,1071.41 1382.77,1074.11C1384.77,1076.82 1386.76,1079.52 1388.76,1082.22C1390.76,1084.91 1392.75,1087.61 1394.75,1090.30C1396.75,1092.99 1398.75,1095.68 1400.74,1098.36C1402.74,1101.05 1404.74,1103.73 1406.73,1106.40C1408.73,1109.07 1410.73,1111.74 1412.72,1114.40C1414.72,1117.07 1416.72,1119.72 1418.71,1122.37C1420.71,1125.02 1422.71,1127.66 1424.71,1130.29C1426.70,1132.92 1428.70,1135.54 1430.70,1138.16C1432.69,1140.77 1434.69,1143.38 1436.69,1145.97C1438.68,1148.56 1440.68,1151.15 1442.68,1153.72C1444.67,1156.29 1446.67,1158.85 1448.67,1161.40C1450.67,1163.95 1452.66,1166.49 1454.66,1169.01C1456.66,1171.53 1458.65,1174.04 1460.65,1176.53C1462.65,1179.03 1464.64,1181.51 1466.64,1183.97C1468.64,1186.44 1470.63,1188.89 1472.63,1191.32C1474.63,1193.75 1476.63,1196.16 1478.62,1198.56C1480.62,1200.96 1482.62,1203.34 1484.61,1205.70C1486.61,1208.06 1488.61,1210.40 1490.60,1212.72C1492.60,1215.04 1494.60,1217.35 1496.60,1219.63C1498.59,1221.91 1500.59,1224.17 1502.59,1226.41C1504.58,1228.65 1506.58,1230.87 1508.58,1233.06C1510.57,1235.26 1512.57,1237.44 1514.57,1239.59C1516.56,1241.75 1518.56,1243.88 1520.56,1245.99C1522.56,1248.10 1524.55,1250.19 1526.55,1252.26C1528.55,1254.33 1530.54,1256.38 1532.54,1258.40C1534.54,1260.43 1536.53,1262.43 1538.53,1264.42C1540.53,1266.40 1542.52,1268.36 1544.52,1270.30C1546.52,1272.25 1548.52,1274.17 1550.51,1276.07C1552.51,1277.96 1554.51,1279.84 1556.50,1281.70C1558.50,1283.56 1560.50,1285.39 1562.49,1287.21C1564.49,1289.02 1566.49,1290.82 1568.48,1292.59C1570.48,1294.36 1572.48,1296.11 1574.48,1297.84C1576.47,1299.56 1578.47,1301.27 1580.47,1302.95C1582.46,1304.63 1584.46,1306.29 1586.46,1307.93C1588.45,1309.57 1590.45,1311.18 1592.45,1312.77C1594.44,1314.36 1596.44,1315.93 1598.44,1317.48C1600.44,1319.03 1602.43,1320.55 1604.43,1322.05C1606.43,1323.55 1608.42,1325.03 1610.42,1326.49C1612.42,1327.95 1614.41,1329.39 1616.41,1330.80C1618.41,1332.22 1620.40,1333.61 1622.40,1334.99C1624.40,1336.36 1626.40,1337.71 1628.39,1339.05C1630.39,1340.38 1632.39,1341.70 1634.38,1343.00C1636.38,1344.30 1638.38,1345.58 1640.37,1346.84C1642.37,1348.10 1644.37,1349.35 1646.37,1350.58C1648.36,1351.80 1650.36,1353.02 1652.36,1354.22C1654.35,1355.42 1656.35,1356.60 1658.35,1357.77C1660.34,1358.94 1662.34,1360.10 1664.34,1361.24C1666.33,1362.39 1668.33,1363.52 1670.33,1364.63C1672.33,1365.75 1674.32,1366.86 1676.32,1367.96C1678.32,1369.05 1680.31,1370.13 1682.31,1371.21C1684.31,1372.28 1686.30,1373.34 1688.30,1374.39C1690.30,1375.45 1692.29,1376.49 1694.29,1377.51C1696.29,1378.54 1698.29,1379.56 1700.28,1380.57C1702.28,1381.58 1704.28,1382.58 1706.27,1383.57C1708.27,1384.56 1710.27,1385.54 1712.26,1386.52C1714.26,1387.49 1716.26,1388.46 1718.25,1389.42C1720.25,1390.38 1722.25,1391.34 1724.25,1392.29C1726.24,1393.23 1728.24,1394.18 1730.24,1395.11C1732.23,1396.05 1734.23,1396.97 1736.23,1397.90C1738.22,1398.82 1740.22,1399.73 1742.22,1400.64C1744.21,1401.55 1746.21,1402.46 1748.21,1403.35C1750.21,1404.25 1752.20,1405.14 1754.20,1406.02C1756.20,1406.90 1758.19,1407.78 1760.19,1408.65C1762.19,1409.52 1764.18,1410.38 1766.18,1411.24C1768.18,1412.09 1770.17,1412.94 1772.17,1413.78C1774.17,1414.62 1776.17,1415.45 1778.16,1416.28C1780.16,1417.11 1782.16,1417.92 1784.15,1418.73C1786.15,1419.54 1788.15,1420.35 1790.14,1421.14C1792.14,1421.93 1794.14,1422.72 1796.13,1423.50C1798.13,1424.27 1800.13,1425.04 1802.13,1425.80C1804.12,1426.56 1806.12,1427.31 1808.12,1428.05C1810.11,1428.79 1812.11,1429.52 1814.11,1430.25C1816.10,1430.97 1818.10,1431.69 1820.10,1432.39C1822.10,1433.10 1824.09,1433.79 1826.09,1434.48C1828.09,1435.17 1830.08,1435.85 1832.08,1436.52C1834.08,1437.19 1836.07,1437.85 1838.07,1438.50C1840.07,1439.15 1842.06,1439.80 1844.06,1440.43C1846.06,1441.07 1848.06,1441.69 1850.05,1442.31C1852.05,1442.93 1854.05,1443.54 1856.04,1444.14C1858.04,1444.75 1860.04,1445.34 1862.03,1445.93C1864.03,1446.52 1866.03,1447.10 1868.02,1447.68C1870.02,1448.25 1872.02,1448.82 1874.02,1449.39C1876.01,1449.96 1878.01,1450.52 1880.01,1451.07C1882.00,1451.63 1884.00,1452.18 1886.00,1452.73C1887.99,1453.28 1889.99,1453.83 1891.99,1454.37C1893.98,1454.92 1895.98,1455.46 1897.98,1455.99C1899.98,1456.53 1901.97,1457.07 1903.97,1457.60C1905.97,1458.13 1907.96,1458.65 1909.96,1459.18C1911.96,1459.70 1913.95,1460.22 1915.95,1460.74C1917.95,1461.25 1919.94,1461.76 1921.94,1462.27C1923.94,1462.78 1925.94,1463.28 1927.93,1463.78C1929.93,1464.28 1931.93,1464.77 1933.92,1465.26C1935.92,1465.75 1937.92,1466.23 1939.91,1466.71C1941.91,1467.19 1943.91,1467.66 1945.90,1468.13C1947.90,1468.60 1949.90,1469.06 1951.90,1469.51C1953.89,1469.97 1955.89,1470.41 1957.89,1470.86C1959.88,1471.30 1961.88,1471.74 1963.88,1472.17C1965.87,1472.60 1967.87,1473.03 1969.87,1473.45C1971.87,1473.87 1973.86,1474.28 1975.86,1474.69C1977.86,1475.10 1979.85,1475.51 1981.85,1475.90C1983.85,1476.30 1985.84,1476.69 1987.84,1477.08C1989.84,1477.47 1991.83,1477.85 1993.83,1478.22C1995.83,1478.60 1997.83,1478.97 1999.82,1479.34C2001.82,1479.70 2003.82,1480.06 2005.81,1480.42C2007.81,1480.77 2009.81,1481.12 2011.80,1481.47C2013.80,1481.81 2015.80,1482.15 2017.79,1482.49C2019.79,1482.82 2021.79,1483.16 2023.79,1483.48C2025.78,1483.81 2027.78,1484.13 2029.78,1484.44C2031.77,1484.76 2033.77,1485.07 2035.77,1485.38C2037.76,1485.69 2039.76,1485.99 2041.76,1486.29C2043.75,1486.58 2045.75,1486.88 2047.75,1487.17C2049.75,1487.46 2051.74,1487.74 2053.74,1488.02C2055.74,1488.31 2057.73,1488.58 2059.73,1488.85C2061.73,1489.13 2063.72,1489.40 2065.72,1489.66C2067.72,1489.93 2069.71,1490.19 2071.71,1490.44C2073.71,1490.70 2075.71,1490.95 2077.70,1491.20C2079.70,1491.45 2081.70,1491.70 2083.69,1491.94C2085.69,1492.18 2087.69,1492.42 2089.68,1492.66C2091.68,1492.89 2093.68,1493.12 2095.67,1493.35C2097.67,1493.58 2099.67,1493.81 2101.67,1494.03C2103.66,1494.25 2105.66,1494.47 2107.66,1494.68C2109.65,1494.90 2111.65,1495.11 2113.65,1495.32C2115.64,1495.53 2117.64,1495.74 2119.64,1495.94C2121.63,1496.14 2123.63,1496.34 2125.63,1496.54C2127.63,1496.74 2129.62,1496.93 2131.62,1497.13C2133.62,1497.32 2135.61,1497.51 2137.61,1497.70C2139.61,1497.88 2141.60,1498.07 2143.60,1498.25C2145.60,1498.43 2147.60,1498.61 2149.59,1498.79C2151.59,1498.97 2153.59,1499.14 2155.58,1499.32C2157.58,1499.49 2159.58,1499.67 2161.57,1499.84C2163.57,1500.01 2165.57,1500.18 2167.56,1500.34C2169.56,1500.51 2171.56,1500.68 2173.56,1500.84C2175.55,1501.01 2177.55,1501.17 2179.55,1501.33C2181.54,1501.50 2183.54,1501.66 2185.54,1501.82C2187.53,1501.98 2189.53,1502.14 2191.53,1502.30C2193.52,1502.46 2195.52,1502.62 2197.52,1502.78C2199.52,1502.94 2201.51,1503.10 2203.51,1503.26C2205.51,1503.41 2207.50,1503.57 2209.50,1503.73"/>
<path stroke="#919191" d="M256.50,1072.72C258.50,1076.92 260.49,1081.12 262.49,1085.32C264.49,1089.52 266.48,1093.71 268.48,1097.89C270.48,1102.07 272.48,1106.24 274.47,1110.38C276.47,1114.52 278.47,1118.63 280.46,1122.71C282.46,1126.79 284.46,1130.83 286.45,1134.82C288.45,1138.81 290.45,1142.75 292.44,1146.63C294.44,1150.50 296.44,1154.32 298.44,1158.06C300.43,1161.81 302.43,1165.48 304.43,1169.06C306.42,1172.64 308.42,1176.14 310.42,1179.54C312.41,1182.94 314.41,1186.24 316.41,1189.44C318.40,1192.64 320.40,1195.73 322.40,1198.70C324.40,1201.68 326.39,1204.54 328.39,1207.28C330.39,1210.01 332.38,1212.63 334.38,1215.11C336.38,1217.59 338.37,1219.94 340.37,1222.16C342.37,1224.38 344.37,1226.46 346.36,1228.41C348.36,1230.36 350.36,1232.17 352.35,1233.84C354.35,1235.51 356.35,1237.05 358.34,1238.43C360.34,1239.82 362.34,1241.06 364.33,1242.14C366.33,1243.22 368.33,1244.14 370.33,1244.89C372.32,1245.65 374.32,1246.23 376.32,1246.64C378.31,1247.05 380.31,1247.28 382.31,1247.32C384.30,1247.36 386.30,1247.22 388.30,1246.87C390.29,1246.52 392.29,1245.98 394.29,1245.21C396.29,1244.45 398.28,1243.47 400.28,1242.27C402.28,1241.06 404.27,1239.62 406.27,1237.94C408.27,1236.26 410.26,1234.34 412.26,1232.15C414.26,1229.96 416.25,1227.52 418.25,1224.81C420.25,1222.10 422.25,1219.13 424.24,1215.90C426.24,1212.67 428.24,1209.19 430.23,1205.45C432.23,1201.72 434.23,1197.74 436.22,1193.53C438.22,1189.31 440.22,1184.87 442.21,1180.22C444.21,1175.56 446.21,1170.70 448.21,1165.65C450.20,1160.60 452.20,1155.37 454.20,1149.97C456.19,1144.57 458.19,1139.00 460.19,1133.29C462.18,1127.58 464.18,1121.72 466.18,1115.74C468.17,1109.76 470.17,1103.65 472.17,1097.44C474.17,1091.23 476.16,1084.91 478.16,1078.52C480.16,1072.12 482.15,1065.64 484.15,1059.10C486.15,1052.56 488.14,1045.96 490.14,1039.30C492.14,1032.65 494.13,1025.96 496.13,1019.23C498.13,1012.51 500.13,1005.75 502.12,998.97C504.12,992.20 506.12,985.40 508.11,978.59C510.11,971.78 512.11,964.96 514.10,958.13C516.10,951.30 518.10,944.46 520.10,937.61C522.09,930.76 524.09,923.90 526.09,917.04C528.08,910.18 530.08,903.31 532.08,896.44C534.07,889.57 536.07,882.69 538.07,875.81C540.06,868.93 542.06,862.05 544.06,855.17C546.06,848.29 548.05,841.41 550.05,834.53C552.05,827.65 554.04,820.77 556.04,813.89C558.04,807.01 560.03,800.14 562.03,793.27C564.03,786.40 566.02,779.54 568.02,772.68C570.02,765.82 572.02,758.97 574.01,752.13C576.01,745.28 578.01,738.45 580.00,731.62C582.00,724.80 584.00,717.98 585.99,711.19C587.99,704.39 589.99,697.61 591.98,690.86C593.98,684.11 595.98,677.39 597.98,670.70C599.97,664.02 601.97,657.38 603.97,650.78C605.96,644.18 607.96,637.63 609.96,631.14C611.95,624.65 613.95,618.21 615.95,611.85C617.94,605.48 619.94,599.18 621.94,592.95C623.94,586.72 625.93,580.57 627.93,574.49C629.93,568.41 631.92,562.42 633.92,556.50C635.92,550.58 637.91,544.75 639.91,539.01C641.91,533.27 643.90,527.63 645.90,522.08C647.90,516.54 649.90,511.10 651.89,505.76C653.89,500.42 655.89,495.19 657.88,490.07C659.88,484.94 661.88,479.93 663.87,475.03C665.87,470.13 667.87,465.35 669.87,460.68C671.86,456.01 673.86,451.46 675.86,447.01C677.85,442.57 679.85,438.24 681.85,434.03C683.84,429.81 685.84,425.70 687.84,421.71C689.83,417.71 691.83,413.82 693.83,410.04C695.83,406.26 697.82,402.59 699.82,399.01C701.82,395.43 703.81,391.95 705.81,388.57C707.81,385.18 709.80,381.89 711.80,378.68C713.80,375.47 715.79,372.36 717.79,369.32C719.79,366.29 721.79,363.34 723.78,360.47C725.78,357.61 727.78,354.83 729.77,352.13C731.77,349.43 733.77,346.81 735.76,344.27C737.76,341.73 739.76,339.28 741.75,336.90C743.75,334.52 745.75,332.22 747.75,330.00C749.74,327.78 751.74,325.64 753.74,323.57C755.73,321.51 757.73,319.52 759.73,317.62C761.72,315.71 763.72,313.88 765.72,312.12C767.71,310.37 769.71,308.70 771.71,307.11C773.71,305.53 775.70,304.02 777.70,302.60C779.70,301.18 781.69,299.85 783.69,298.60C785.69,297.35 787.68,296.19 789.68,295.12C791.68,294.05 793.67,293.07 795.67,292.18C797.67,291.29 799.67,290.49 801.66,289.79C803.66,289.08 805.66,288.47 807.65,287.96C809.65,287.44 811.65,287.02 813.64,286.70C815.64,286.38 817.64,286.16 819.63,286.04C821.63,285.92 823.63,285.90 825.63,285.98C827.62,286.06 829.62,286.24 831.62,286.51C833.61,286.77 835.61,287.13 837.61,287.57C839.60,288.02 841.60,288.55 843.60,289.15C845.60,289.76 847.59,290.44 849.59,291.20C851.59,291.96 853.58,292.79 855.58,293.70C857.58,294.60 859.57,295.57 861.57,296.60C863.57,297.64 865.56,298.73 867.56,299.89C869.56,301.05 871.56,302.26 873.55,303.53C875.55,304.80 877.55,306.12 879.54,307.49C881.54,308.86 883.54,310.28 885.53,311.74C887.53,313.21 889.53,314.71 891.52,316.26C893.52,317.80 895.52,319.39 897.52,321.00C899.51,322.62 901.51,324.28 903.51,325.96C905.50,327.64 907.50,329.35 909.50,331.08C911.49,332.82 913.49,334.58 915.49,336.36C917.48,338.15 919.48,339.95 921.48,341.77C923.48,343.59 925.47,345.43 927.47,347.29C929.47,349.14 931.46,351.02 933.46,352.90C935.46,354.78 937.45,356.67 939.45,358.58C941.45,360.48 943.44,362.39 945.44,364.31C947.44,366.22 949.44,368.15 951.43,370.07C953.43,372.00 955.43,373.92 957.42,375.85C959.42,377.78 961.42,379.70 963.41,381.63C965.41,383.55 967.41,385.47 969.40,387.38C971.40,389.30 973.40,391.21 975.40,393.11C977.39,395.02 979.39,396.92 981.39,398.82C983.38,400.72 985.38,402.61 987.38,404.51C989.37,406.40 991.37,408.29 993.37,410.17C995.37,412.06 997.36,413.94 999.36,415.82C1001.36,417.70 1003.35,419.58 1005.35,421.45C1007.35,423.33 1009.34,425.20 1011.34,427.07C1013.34,428.94 1015.33,430.80 1017.33,432.67C1019.33,434.53 1021.33,436.40 1023.32,438.26C1025.32,440.12 1027.32,441.98 1029.31,443.83C1031.31,445.69 1033.31,447.54 1035.30,449.38C1037.30,451.21 1039.30,453.04 1041.29,454.86C1043.29,456.68 1045.29,458.48 1047.29,460.27C1049.28,462.06 1051.28,463.84 1053.28,465.61C1055.27,467.37 1057.27,469.13 1059.27,470.88C1061.26,472.62 1063.26,474.37 1065.26,476.10C1067.25,477.84 1069.25,479.57 1071.25,481.30C1073.25,483.02 1075.24,484.75 1077.24,486.47C1079.24,488.20 1081.23,489.92 1083.23,491.65C1085.23,493.37 1087.22,495.10 1089.22,496.83C1091.22,498.56 1093.21,500.29 1095.21,502.03C1097.21,503.76 1099.21,505.50 1101.20,507.25C1103.20,509.00 1105.20,510.75 1107.19,512.51C1109.19,514.27 1111.19,516.03 1113.18,517.80C1115.18,519.58 1117.18,521.36 1119.17,523.15C1121.17,524.94 1123.17,526.73 1125.17,528.54C1127.16,530.35 1129.16,532.16 1131.16,533.98C1133.15,535.80 1135.15,537.63 1137.15,539.47C1139.14,541.31 1141.14,543.16 1143.14,545.01C1145.13,546.87 1147.13,548.74 1149.13,550.61C1151.13,552.49 1153.12,554.38 1155.12,556.28C1157.12,558.18 1159.11,560.10 1161.11,562.02C1163.11,563.95 1165.10,565.90 1167.10,567.86C1169.10,569.82 1171.10,571.79 1173.09,573.79C1175.09,575.78 1177.09,577.79 1179.08,579.82C1181.08,581.85 1183.08,583.90 1185.07,585.96C1187.07,588.03 1189.07,590.12 1191.06,592.22C1193.06,594.33 1195.06,596.46 1197.06,598.61C1199.05,600.75 1201.05,602.92 1203.05,605.12C1205.04,607.31 1207.04,609.53 1209.04,611.77C1211.03,614.01 1213.03,616.27 1215.03,618.56C1217.02,620.85 1219.02,623.17 1221.02,625.52C1223.02,627.86 1225.01,630.23 1227.01,632.63C1229.01,635.03 1231.00,637.46 1233.00,639.92C1235.00,642.38 1236.99,644.87 1238.99,647.39C1240.99,649.92 1242.98,652.47 1244.98,655.05C1246.98,657.64 1248.98,660.25 1250.97,662.90C1252.97,665.55 1254.97,668.24 1256.96,670.95C1258.96,673.67 1260.96,676.42 1262.95,679.20C1264.95,681.98 1266.95,684.80 1268.94,687.65C1270.94,690.50 1272.94,693.39 1274.94,696.31C1276.93,699.22 1278.93,702.18 1280.93,705.16C1282.92,708.15 1284.92,711.17 1286.92,714.23C1288.91,717.28 1290.91,720.37 1292.91,723.50C1294.90,726.62 1296.90,729.78 1298.90,732.97C1300.90,736.16 1302.89,739.38 1304.89,742.63C1306.89,745.89 1308.88,749.17 1310.88,752.49C1312.88,755.80 1314.87,759.15 1316.87,762.52C1318.87,765.89 1320.87,769.30 1322.86,772.73C1324.86,776.15 1326.86,779.61 1328.85,783.09C1330.85,786.57 1332.85,790.07 1334.84,793.60C1336.84,797.12 1338.84,800.67 1340.83,804.24C1342.83,807.80 1344.83,811.39 1346.83,814.99C1348.82,818.59 1350.82,822.21 1352.82,825.84C1354.81,829.47 1356.81,833.12 1358.81,836.78C1360.80,840.44 1362.80,844.11 1364.80,847.79C1366.79,851.47 1368.79,855.16 1370.79,858.87C1372.79,862.57 1374.78,866.27 1376.78,869.99C1378.78,873.70 1380.77,877.43 1382.77,881.15C1384.77,884.88 1386.76,888.61 1388.76,892.35C1390.76,896.08 1392.75,899.82 1394.75,903.56C1396.75,907.30 1398.75,911.04 1400.74,914.78C1402.74,918.52 1404.74,922.26 1406.73,926.00C1408.73,929.74 1410.73,933.47 1412.72,937.21C1414.72,940.94 1416.72,944.67 1418.71,948.40C1420.71,952.12 1422.71,955.85 1424.71,959.56C1426.70,963.28 1428.70,966.99 1430.70,970.69C1432.69,974.39 1434.69,978.08 1436.69,981.77C1438.68,985.45 1440.68,989.13 1442.68,992.80C1444.67,996.46 1446.67,1000.12 1448.67,1003.77C1450.67,1007.41 1452.66,1011.04 1454.66,1014.67C1456.66,1018.29 1458.65,1021.89 1460.65,1025.49C1462.65,1029.08 1464.64,1032.66 1466.64,1036.22C1468.64,1039.79 1470.63,1043.34 1472.63,1046.87C1474.63,1050.40 1476.63,1053.91 1478.62,1057.40C1480.62,1060.90 1482.62,1064.37 1484.61,1067.83C1486.61,1071.28 1488.61,1074.72 1490.60,1078.13C1492.60,1081.54 1494.60,1084.93 1496.60,1088.30C1498.59,1091.67 1500.59,1095.01 1502.59,1098.33C1504.58,1101.65 1506.58,1104.94 1508.58,1108.21C1510.57,1111.48 1512.57,1114.72 1514.57,1117.94C1516.56,1121.16 1518.56,1124.35 1520.56,1127.51C1522.56,1130.68 1524.55,1133.81 1526.55,1136.92C1528.55,1140.03 1530.54,1143.11 1532.54,1146.17C1534.54,1149.22 1536.53,1152.25 1538.53,1155.24C1540.53,1158.24 1542.52,1161.21 1544.52,1164.15C1546.52,1167.09 1548.52,1169.99 1550.51,1172.87C1552.51,1175.75 1554.51,1178.60 1556.50,1181.42C1558.50,1184.24 1560.50,1187.03 1562.49,1189.79C1564.49,1192.55 1566.49,1195.28 1568.48,1197.98C1570.48,1200.67 1572.48,1203.34 1574.48,1205.98C1576.47,1208.61 1578.47,1211.22 1580.47,1213.79C1582.46,1216.37 1584.46,1218.91 1586.46,1221.42C1588.45,1223.93 1590.45,1226.41 1592.45,1228.86C1594.44,1231.30 1596.44,1233.72 1598.44,1236.10C1600.44,1238.49 1602.43,1240.84 1604.43,1243.16C1606.43,1245.48 1608.42,1247.77 1610.42,1250.02C1612.42,1252.28 1614.41,1254.50 1616.41,1256.70C1618.41,1258.89 1620.40,1261.05 1622.40,1263.18C1624.40,1265.31 1626.40,1267.41 1628.39,1269.48C1630.39,1271.55 1632.39,1273.58 1634.38,1275.59C1636.38,1277.60 1638.38,1279.57 1640.37,1281.52C1642.37,1283.47 1644.37,1285.39 1646.37,1287.28C1648.36,1289.17 1650.36,1291.03 1652.36,1292.86C1654.35,1294.69 1656.35,1296.50 1658.35,1298.28C1660.34,1300.05 1662.34,1301.80 1664.34,1303.53C1666.33,1305.25 1668.33,1306.95 1670.33,1308.63C1672.33,1310.30 1674.32,1311.95 1676.32,1313.57C1678.32,1315.20 1680.31,1316.80 1682.31,1318.38C1684.31,1319.95 1686.30,1321.51 1688.30,1323.04C1690.30,1324.57 1692.29,1326.09 1694.29,1327.57C1696.29,1329.06 1698.29,1330.53 1700.28,1331.98C1702.28,1333.43 1704.28,1334.86 1706.27,1336.27C1708.27,1337.67 1710.27,1339.06 1712.26,1340.43C1714.26,1341.81 1716.26,1343.16 1718.25,1344.49C1720.25,1345.83 1722.25,1347.14 1724.25,1348.44C1726.24,1349.74 1728.24,1351.03 1730.24,1352.29C1732.23,1353.56 1734.23,1354.81 1736.23,1356.04C1738.22,1357.28 1740.22,1358.50 1742.22,1359.70C1744.21,1360.90 1746.21,1362.09 1748.21,1363.27C1750.21,1364.44 1752.20,1365.60 1754.20,1366.75C1756.20,1367.90 1758.19,1369.03 1760.19,1370.15C1762.19,1371.27 1764.18,1372.38 1766.18,1373.47C1768.18,1374.56 1770.17,1375.64 1772.17,1376.71C1774.17,1377.77 1776.17,1378.83 1778.16,1379.87C1780.16,1380.91 1782.16,1381.93 1784.15,1382.95C1786.15,1383.96 1788.15,1384.96 1790.14,1385.95C1792.14,1386.94 1794.14,1387.92 1796.13,1388.88C1798.13,1389.85 1800.13,1390.80 1802.13,1391.74C1804.12,1392.68 1806.12,1393.61 1808.12,1394.53C1810.11,1395.44 1812.11,1396.35 1814.11,1397.24C1816.10,1398.14 1818.10,1399.02 1820.10,1399.89C1822.10,1400.76 1824.09,1401.62 1826.09,1402.47C1828.09,1403.32 1830.08,1404.16 1832.08,1404.99C1834.08,1405.82 1836.07,1406.64 1838.07,1407.45C1840.07,1408.25 1842.06,1409.05 1844.06,1409.84C1846.06,1410.63 1848.06,1411.41 1850.05,1412.19C1852.05,1412.96 1854.05,1413.72 1856.04,1414.48C1858.04,1415.23 1860.04,1415.98 1862.03,1416.72C1864.03,1417.46 1866.03,1418.19 1868.02,1418.92C1870.02,1419.64 1872.02,1420.37 1874.02,1421.08C1876.01,1421.80 1878.01,1422.51 1880.01,1423.22C1882.00,1423.92 1884.00,1424.62 1886.00,1425.32C1887.99,1426.02 1889.99,1426.72 1891.99,1427.41C1893.98,1428.11 1895.98,1428.80 1897.98,1429.48C1899.98,1430.17 1901.97,1430.86 1903.97,1431.54C1905.97,1432.22 1907.96,1432.90 1909.96,1433.57C1911.96,1434.25 1913.95,1434.92 1915.95,1435.59C1917.95,1436.26 1919.94,1436.92 1921.94,1437.58C1923.94,1438.24 1925.94,1438.90 1927.93,1439.56C1929.93,1440.21 1931.93,1440.86 1933.92,1441.51C1935.92,1442.15 1937.92,1442.80 1939.91,1443.43C1941.91,1444.07 1943.91,1444.70 1945.90,1445.33C1947.90,1445.96 1949.90,1446.58 1951.90,1447.19C1953.89,1447.80 1955.89,1448.41 1957.89,1449.01C1959.88,1449.62 1961.88,1450.21 1963.88,1450.80C1965.87,1451.39 1967.87,1451.97 1969.87,1452.54C1971.87,1453.12 1973.86,1453.68 1975.86,1454.24C1977.86,1454.80 1979.85,1455.35 1981.85,1455.90C1983.85,1456.44 1985.84,1456.98 1987.84,1457.51C1989.84,1458.04 1991.83,1458.57 1993.83,1459.08C1995.83,1459.60 1997.83,1460.11 1999.82,1460.61C2001.82,1461.12 2003.82,1461.61 2005.81,1462.10C2007.81,1462.59 2009.81,1463.08 2011.80,1463.56C2013.80,1464.03 2015.80,1464.50 2017.79,1464.97C2019.79,1465.43 2021.79,1465.89 2023.79,1466.34C2025.78,1466.80 2027.78,1467.24 2029.78,1467.68C2031.77,1468.12 2033.77,1468.56 2035.77,1468.99C2037.76,1469.42 2039.76,1469.84 2041.76,1470.26C2043.75,1470.68 2045.75,1471.10 2047.75,1471.51C2049.75,1471.92 2051.74,1472.32 2053.74,1472.72C2055.74,1473.12 2057.73,1473.51 2059.73,1473.91C2061.73,1474.30 2063.72,1474.68 2065.72,1475.06C2067.72,1475.45 2069.71,1475.82 2071.71,1476.20C2073.71,1476.57 2075.71,1476.94 2077.70,1477.30C2079.70,1477.67 2081.70,1478.03 2083.69,1478.39C2085.69,1478.74 2087.69,1479.10 2089.68,1479.44C2091.68,1479.79 2093.68,1480.14 2095.67,1480.48C2097.67,1480.82 2099.67,1481.16 2101.67,1481.49C2103.66,1481.83 2105.66,1482.16 2107.66,1482.49C2109.65,1482.81 2111.65,1483.14 2113.65,1483.46C2115.64,1483.78 2117.64,1484.10 2119.64,1484.41C2121.63,1484.73 2123.63,1485.04 2125.63,1485.35C2127.63,1485.66 2129.62,1485.97 2131.62,1486.27C2133.62,1486.58 2135.61,1486.88 2137.61,1487.18C2139.61,1487.48 2141.60,1487.78 2143.60,1488.08C2145.60,1488.37 2147.60,1488.67 2149.59,1488.96C2151.59,1489.25 2153.59,1489.54 2155.58,1489.83C2157.58,1490.12 2159.58,1490.41 2161.57,1490.70C2163.57,1490.98 2165.57,1491.27 2167.56,1491.55C2169.56,1491.83 2171.56,1492.12 2173.56,1492.40C2175.55,1492.68 2177.55,1492.96 2179.55,1493.24C2181.54,1493.52 2183.54,1493.79 2185.54,1494.07C2187.53,1494.35 2189.53,1494.63 2191.53,1494.90C2193.52,1495.18 2195.52,1495.46 2197.52,1495.73C2199.52,1496.01 2201.51,1496.28 2203.51,1496.56C2205.51,1496.83 2207.50,1497.11 2209.50,1497.38"/>
<path stroke="#FF5555" d="M256.50,1152.90C258.50,1156.59 260.49,1160.28 262.49,1163.97C264.49,1167.66 266.48,1171.33 268.48,1175.00C270.48,1178.66 272.48,1182.30 274.47,1185.90C276.47,1189.51 278.47,1193.08 280.46,1196.60C282.46,1200.13 284.46,1203.60 286.45,1207.01C288.45,1210.43 290.45,1213.78 292.44,1217.07C294.44,1220.36 296.44,1223.58 298.44,1226.73C300.43,1229.87 302.43,1232.94 304.43,1235.93C306.42,1238.91 308.42,1241.81 310.42,1244.62C312.41,1247.44 314.41,1250.16 316.41,1252.78C318.40,1255.41 320.40,1257.94 322.40,1260.38C324.40,1262.82 326.39,1265.17 328.39,1267.42C330.39,1269.67 332.38,1271.82 334.38,1273.87C336.38,1275.92 338.37,1277.87 340.37,1279.71C342.37,1281.55 344.37,1283.29 346.36,1284.92C348.36,1286.54 350.36,1288.06 352.35,1289.46C354.35,1290.86 356.35,1292.14 358.34,1293.29C360.34,1294.45 362.34,1295.48 364.33,1296.38C366.33,1297.27 368.33,1298.04 370.33,1298.66C372.32,1299.28 374.32,1299.76 376.32,1300.08C378.31,1300.40 380.31,1300.56 382.31,1300.55C384.30,1300.54 386.30,1300.36 388.30,1300.00C390.29,1299.63 392.29,1299.09 394.29,1298.35C396.29,1297.61 398.28,1296.67 400.28,1295.53C402.28,1294.40 404.27,1293.05 406.27,1291.50C408.27,1289.94 410.26,1288.18 412.26,1286.20C414.26,1284.21 416.25,1282.02 418.25,1279.60C420.25,1277.18 422.25,1274.54 424.24,1271.68C426.24,1268.83 428.24,1265.76 430.23,1262.48C432.23,1259.20 434.23,1255.72 436.22,1252.04C438.22,1248.35 440.22,1244.47 442.21,1240.41C444.21,1236.34 446.21,1232.10 448.21,1227.69C450.20,1223.27 452.20,1218.70 454.20,1213.97C456.19,1209.24 458.19,1204.37 460.19,1199.37C462.18,1194.37 464.18,1189.25 466.18,1184.02C468.17,1178.78 470.17,1173.44 472.17,1168.00C474.17,1162.57 476.16,1157.04 478.16,1151.44C480.16,1145.84 482.15,1140.16 484.15,1134.42C486.15,1128.68 488.14,1122.88 490.14,1117.03C492.14,1111.19 494.13,1105.29 496.13,1099.36C498.13,1093.43 500.13,1087.47 502.12,1081.48C504.12,1075.50 506.12,1069.49 508.11,1063.47C510.11,1057.45 512.11,1051.42 514.10,1045.38C516.10,1039.34 518.10,1033.29 520.10,1027.23C522.09,1021.18 524.09,1015.13 526.09,1009.07C528.08,1003.01 530.08,996.95 532.08,990.90C534.07,984.84 536.07,978.79 538.07,972.74C540.06,966.68 542.06,960.63 544.06,954.59C546.06,948.55 548.05,942.51 550.05,936.47C552.05,930.44 554.04,924.41 556.04,918.38C558.04,912.35 560.03,906.33 562.03,900.31C564.03,894.29 566.02,888.28 568.02,882.27C570.02,876.26 572.02,870.26 574.01,864.27C576.01,858.28 578.01,852.30 580.00,846.33C582.00,840.36 584.00,834.41 585.99,828.48C587.99,822.55 589.99,816.64 591.98,810.76C593.98,804.87 595.98,799.02 597.98,793.20C599.97,787.39 601.97,781.60 603.97,775.86C605.96,770.12 607.96,764.42 609.96,758.77C611.95,753.12 613.95,747.52 615.95,741.97C617.94,736.41 619.94,730.92 621.94,725.48C623.94,720.04 625.93,714.66 627.93,709.34C629.93,704.03 631.92,698.78 633.92,693.60C635.92,688.41 637.91,683.30 639.91,678.26C641.91,673.22 643.90,668.25 645.90,663.36C647.90,658.46 649.90,653.64 651.89,648.89C653.89,644.15 655.89,639.48 657.88,634.88C659.88,630.28 661.88,625.76 663.87,621.32C665.87,616.87 667.87,612.50 669.87,608.21C671.86,603.92 673.86,599.70 675.86,595.55C677.85,591.40 679.85,587.33 681.85,583.33C683.84,579.32 685.84,575.39 687.84,571.55C689.83,567.70 691.83,563.94 693.83,560.26C695.83,556.57 697.82,552.97 699.82,549.45C701.82,545.92 703.81,542.48 705.81,539.13C707.81,535.78 709.80,532.51 711.80,529.34C713.80,526.17 715.79,523.10 717.79,520.12C719.79,517.14 721.79,514.25 723.78,511.46C725.78,508.67 727.78,505.97 729.77,503.37C731.77,500.76 733.77,498.25 735.76,495.83C737.76,493.41 739.76,491.09 741.75,488.85C743.75,486.61 745.75,484.46 747.75,482.40C749.74,480.34 751.74,478.37 753.74,476.48C755.73,474.59 757.73,472.78 759.73,471.06C761.72,469.33 763.72,467.69 765.72,466.13C767.71,464.57 769.71,463.09 771.71,461.69C773.71,460.30 775.70,458.98 777.70,457.74C779.70,456.51 781.69,455.35 783.69,454.27C785.69,453.20 787.68,452.20 789.68,451.28C791.68,450.36 793.67,449.52 795.67,448.75C797.67,447.98 799.67,447.29 801.66,446.67C803.66,446.05 805.66,445.50 807.65,445.02C809.65,444.54 811.65,444.14 813.64,443.80C815.64,443.46 817.64,443.19 819.63,442.99C821.63,442.79 823.63,442.65 825.63,442.58C827.62,442.52 829.62,442.51 831.62,442.57C833.61,442.63 835.61,442.75 837.61,442.94C839.60,443.12 841.60,443.36 843.60,443.67C845.60,443.97 847.59,444.33 849.59,444.76C851.59,445.18 853.58,445.66 855.58,446.20C857.58,446.73 859.57,447.33 861.57,447.98C863.57,448.62 865.56,449.33 867.56,450.08C869.56,450.84 871.56,451.64 873.55,452.50C875.55,453.36 877.55,454.27 879.54,455.23C881.54,456.19 883.54,457.19 885.53,458.24C887.53,459.29 889.53,460.39 891.52,461.52C893.52,462.66 895.52,463.83 897.52,465.04C899.51,466.26 901.51,467.50 903.51,468.78C905.50,470.06 907.50,471.37 909.50,472.71C911.49,474.05 913.49,475.42 915.49,476.81C917.48,478.20 919.48,479.62 921.48,481.06C923.48,482.50 925.47,483.97 927.47,485.45C929.47,486.94 931.46,488.44 933.46,489.97C935.46,491.49 937.45,493.03 939.45,494.59C941.45,496.14 943.44,497.72 945.44,499.30C947.44,500.89 949.44,502.49 951.43,504.11C953.43,505.73 955.43,507.37 957.42,509.03C959.42,510.68 961.42,512.36 963.41,514.05C965.41,515.74 967.41,517.45 969.40,519.18C971.40,520.91 973.40,522.66 975.40,524.44C977.39,526.21 979.39,528.00 981.39,529.81C983.38,531.62 985.38,533.44 987.38,535.28C989.37,537.12 991.37,538.97 993.37,540.83C995.37,542.69 997.36,544.56 999.36,546.43C1001.36,548.31 1003.35,550.19 1005.35,552.08C1007.35,553.97 1009.34,555.85 1011.34,557.74C1013.34,559.63 1015.33,561.52 1017.33,563.41C1019.33,565.29 1021.33,567.18 1023.32,569.06C1025.32,570.94 1027.32,572.81 1029.31,574.68C1031.31,576.55 1033.31,578.41 1035.30,580.27C1037.30,582.12 1039.30,583.96 1041.29,585.79C1043.29,587.63 1045.29,589.45 1047.29,591.26C1049.28,593.07 1051.28,594.86 1053.28,596.66C1055.27,598.45 1057.27,600.24 1059.27,602.02C1061.26,603.81 1063.26,605.59 1065.26,607.38C1067.25,609.16 1069.25,610.94 1071.25,612.73C1073.25,614.52 1075.24,616.32 1077.24,618.12C1079.24,619.92 1081.23,621.73 1083.23,623.55C1085.23,625.37 1087.22,627.20 1089.22,629.05C1091.22,630.89 1093.21,632.75 1095.21,634.63C1097.21,636.51 1099.21,638.40 1101.20,640.31C1103.20,642.23 1105.20,644.16 1107.19,646.11C1109.19,648.07 1111.19,650.04 1113.18,652.04C1115.18,654.04 1117.18,656.07 1119.17,658.12C1121.17,660.16 1123.17,662.23 1125.17,664.32C1127.16,666.41 1129.16,668.52 1131.16,670.65C1133.15,672.78 1135.15,674.92 1137.15,677.08C1139.14,679.25 1141.14,681.42 1143.14,683.62C1145.13,685.81 1147.13,688.01 1149.13,690.23C1151.13,692.45 1153.12,694.68 1155.12,696.92C1157.12,699.16 1159.11,701.41 1161.11,703.67C1163.11,705.93 1165.10,708.20 1167.10,710.48C1169.10,712.76 1171.10,715.05 1173.09,717.34C1175.09,719.63 1177.09,721.93 1179.08,724.24C1181.08,726.54 1183.08,728.85 1185.07,731.17C1187.07,733.49 1189.07,735.81 1191.06,738.13C1193.06,740.46 1195.06,742.79 1197.06,745.13C1199.05,747.47 1201.05,749.81 1203.05,752.16C1205.04,754.50 1207.04,756.85 1209.04,759.21C1211.03,761.57 1213.03,763.94 1215.03,766.31C1217.02,768.69 1219.02,771.07 1221.02,773.46C1223.02,775.86 1225.01,778.26 1227.01,780.68C1229.01,783.09 1231.00,785.52 1233.00,787.96C1235.00,790.41 1236.99,792.86 1238.99,795.34C1240.99,797.81 1242.98,800.30 1244.98,802.81C1246.98,805.32 1248.98,807.85 1250.97,810.40C1252.97,812.95 1254.97,815.51 1256.96,818.10C1258.96,820.69 1260.96,823.29 1262.95,825.92C1264.95,828.55 1266.95,831.19 1268.94,833.86C1270.94,836.53 1272.94,839.21 1274.94,841.92C1276.93,844.63 1278.93,847.35 1280.93,850.10C1282.92,852.85 1284.92,855.62 1286.92,858.41C1288.91,861.20 1290.91,864.01 1292.91,866.85C1294.90,869.68 1296.90,872.54 1298.90,875.41C1300.90,878.29 1302.89,881.19 1304.89,884.10C1306.89,887.02 1308.88,889.96 1310.88,892.92C1312.88,895.87 1314.87,898.85 1316.87,901.84C1318.87,904.84 1320.87,907.85 1322.86,910.87C1324.86,913.90 1326.86,916.94 1328.85,920.00C1330.85,923.06 1332.85,926.13 1334.84,929.21C1336.84,932.29 1338.84,935.39 1340.83,938.50C1342.83,941.61 1344.83,944.72 1346.83,947.85C1348.82,950.98 1350.82,954.12 1352.82,957.27C1354.81,960.41 1356.81,963.57 1358.81,966.73C1360.80,969.90 1362.80,973.07 1364.80,976.24C1366.79,979.42 1368.79,982.60 1370.79,985.79C1372.79,988.97 1374.78,992.16 1376.78,995.35C1378.78,998.55 1380.77,1001.74 1382.77,1004.94C1384.77,1008.13 1386.76,1011.33 1388.76,1014.52C1390.76,1017.72 1392.75,1020.91 1394.75,1024.10C1396.75,1027.29 1398.75,1030.48 1400.74,1033.66C1402.74,1036.85 1404.74,1040.03 1406.73,1043.20C1408.73,1046.37 1410.73,1049.53 1412.72,1052.69C1414.72,1055.84 1416.72,1058.99 1418.71,1062.13C1420.71,1065.27 1422.71,1068.39 1424.71,1071.51C1426.70,1074.62 1428.70,1077.72 1430.70,1080.81C1432.69,1083.91 1434.69,1086.98 1436.69,1090.05C1438.68,1093.11 1440.68,1096.16 1442.68,1099.19C1444.67,1102.23 1446.67,1105.24 1448.67,1108.25C1450.67,1111.25 1452.66,1114.23 1454.66,1117.20C1456.66,1120.17 1458.65,1123.12 1460.65,1126.06C1462.65,1128.99 1464.64,1131.90 1466.64,1134.80C1468.64,1137.70 1470.63,1140.57 1472.63,1143.43C1474.63,1146.29 1476.63,1149.12 1478.62,1151.94C1480.62,1154.76 1482.62,1157.56 1484.61,1160.33C1486.61,1163.11 1488.61,1165.87 1490.60,1168.60C1492.60,1171.34 1494.60,1174.05 1496.60,1176.74C1498.59,1179.43 1500.59,1182.10 1502.59,1184.74C1504.58,1187.39 1506.58,1190.01 1508.58,1192.61C1510.57,1195.21 1512.57,1197.79 1514.57,1200.34C1516.56,1202.89 1518.56,1205.42 1520.56,1207.93C1522.56,1210.43 1524.55,1212.92 1526.55,1215.37C1528.55,1217.83 1530.54,1220.26 1532.54,1222.67C1534.54,1225.08 1536.53,1227.47 1538.53,1229.83C1540.53,1232.19 1542.52,1234.53 1544.52,1236.84C1546.52,1239.15 1548.52,1241.44 1550.51,1243.71C1552.51,1245.97 1554.51,1248.21 1556.50,1250.43C1558.50,1252.64 1560.50,1254.84 1562.49,1257.00C1564.49,1259.17 1566.49,1261.31 1568.48,1263.43C1570.48,1265.55 1572.48,1267.65 1574.48,1269.72C1576.47,1271.78 1578.47,1273.83 1580.47,1275.85C1582.46,1277.87 1584.46,1279.86 1586.46,1281.83C1588.45,1283.79 1590.45,1285.74 1592.45,1287.65C1594.44,1289.57 1596.44,1291.46 1598.44,1293.32C1600.44,1295.18 1602.43,1297.02 1604.43,1298.83C1606.43,1300.64 1608.42,1302.43 1610.42,1304.19C1612.42,1305.95 1614.41,1307.68 1616.41,1309.39C1618.41,1311.10 1620.40,1312.78 1622.40,1314.44C1624.40,1316.10 1626.40,1317.73 1628.39,1319.34C1630.39,1320.95 1632.39,1322.54 1634.38,1324.10C1636.38,1325.66 1638.38,1327.19 1640.37,1328.71C1642.37,1330.22 1644.37,1331.71 1646.37,1333.18C1648.36,1334.65 1650.36,1336.10 1652.36,1337.53C1654.35,1338.96 1656.35,1340.37 1658.35,1341.75C1660.34,1343.14 1662.34,1344.51 1664.34,1345.86C1666.33,1347.21 1668.33,1348.54 1670.33,1349.85C1672.33,1351.16 1674.32,1352.46 1676.32,1353.74C1678.32,1355.02 1680.31,1356.28 1682.31,1357.53C1684.31,1358.78 1686.30,1360.01 1688.30,1361.23C1690.30,1362.45 1692.29,1363.65 1694.29,1364.85C1696.29,1366.04 1698.29,1367.21 1700.28,1368.38C1702.28,1369.54 1704.28,1370.70 1706.27,1371.83C1708.27,1372.97 1710.27,1374.10 1712.26,1375.21C1714.26,1376.33 1716.26,1377.43 1718.25,1378.52C1720.25,1379.61 1722.25,1380.69 1724.25,1381.75C1726.24,1382.82 1728.24,1383.87 1730.24,1384.92C1732.23,1385.96 1734.23,1386.99 1736.23,1388.01C1738.22,1389.04 1740.22,1390.05 1742.22,1391.05C1744.21,1392.05 1746.21,1393.04 1748.21,1394.03C1750.21,1395.01 1752.20,1395.98 1754.20,1396.95C1756.20,1397.91 1758.19,1398.86 1760.19,1399.81C1762.19,1400.75 1764.18,1401.69 1766.18,1402.62C1768.18,1403.55 1770.17,1404.46 1772.17,1405.37C1774.17,1406.29 1776.17,1407.19 1778.16,1408.08C1780.16,1408.97 1782.16,1409.86 1784.15,1410.73C1786.15,1411.61 1788.15,1412.48 1790.14,1413.34C1792.14,1414.20 1794.14,1415.05 1796.13,1415.89C1798.13,1416.73 1800.13,1417.57 1802.13,1418.39C1804.12,1419.22 1806.12,1420.04 1808.12,1420.85C1810.11,1421.66 1812.11,1422.46 1814.11,1423.25C1816.10,1424.05 1818.10,1424.83 1820.10,1425.61C1822.10,1426.39 1824.09,1427.16 1826.09,1427.92C1828.09,1428.68 1830.08,1429.44 1832.08,1430.18C1834.08,1430.93 1836.07,1431.67 1838.07,1432.40C1840.07,1433.13 1842.06,1433.86 1844.06,1434.57C1846.06,1435.29 1848.06,1436.00 1850.05,1436.70C1852.05,1437.40 1854.05,1438.09 1856.04,1438.78C1858.04,1439.47 1860.04,1440.15 1862.03,1440.82C1864.03,1441.49 1866.03,1442.16 1868.02,1442.82C1870.02,1443.48 1872.02,1444.13 1874.02,1444.78C1876.01,1445.42 1878.01,1446.06 1880.01,1446.70C1882.00,1447.33 1884.00,1447.96 1886.00,1448.59C1887.99,1449.21 1889.99,1449.83 1891.99,1450.44C1893.98,1451.05 1895.98,1451.66 1897.98,1452.26C1899.98,1452.86 1901.97,1453.46 1903.97,1454.05C1905.97,1454.63 1907.96,1455.22 1909.96,1455.80C1911.96,1456.37 1913.95,1456.95 1915.95,1457.51C1917.95,1458.08 1919.94,1458.64 1921.94,1459.19C1923.94,1459.75 1925.94,1460.30 1927.93,1460.84C1929.93,1461.38 1931.93,1461.92 1933.92,1462.45C1935.92,1462.98 1937.92,1463.50 1939.91,1464.02C1941.91,1464.54 1943.91,1465.05 1945.90,1465.55C1947.90,1466.05 1949.90,1466.55 1951.90,1467.04C1953.89,1467.53 1955.89,1468.02 1957.89,1468.50C1959.88,1468.98 1961.88,1469.45 1963.88,1469.92C1965.87,1470.38 1967.87,1470.85 1969.87,1471.30C1971.87,1471.76 1973.86,1472.21 1975.86,1472.66C1977.86,1473.10 1979.85,1473.55 1981.85,1473.98C1983.85,1474.42 1985.84,1474.85 1987.84,1475.28C1989.84,1475.71 1991.83,1476.13 1993.83,1476.55C1995.83,1476.97 1997.83,1477.39 1999.82,1477.80C2001.82,1478.21 2003.82,1478.62 2005.81,1479.02C2007.81,1479.42 2009.81,1479.82 2011.80,1480.22C2013.80,1480.61 2015.80,1481.00 2017.79,1481.39C2019.79,1481.78 2021.79,1482.16 2023.79,1482.55C2025.78,1482.93 2027.78,1483.30 2029.78,1483.68C2031.77,1484.05 2033.77,1484.42 2035.77,1484.79C2037.76,1485.16 2039.76,1485.52 2041.76,1485.88C2043.75,1486.24 2045.75,1486.59 2047.75,1486.95C2049.75,1487.30 2051.74,1487.65 2053.74,1487.99C2055.74,1488.34 2057.73,1488.68 2059.73,1489.01C2061.73,1489.35 2063.72,1489.68 2065.72,1490.01C2067.72,1490.34 2069.71,1490.67 2071.71,1490.99C2073.71,1491.31 2075.71,1491.63 2077.70,1491.94C2079.70,1492.26 2081.70,1492.57 2083.69,1492.87C2085.69,1493.18 2087.69,1493.48 2089.68,1493.78C2091.68,1494.08 2093.68,1494.38 2095.67,1494.67C2097.67,1494.96 2099.67,1495.25 2101.67,1495.53C2103.66,1495.81 2105.66,1496.09 2107.66,1496.37C2109.65,1496.64 2111.65,1496.92 2113.65,1497.19C2115.64,1497.45 2117.64,1497.72 2119.64,1497.98C2121.63,1498.24 2123.63,1498.50 2125.63,1498.76C2127.63,1499.01 2129.62,1499.27 2131.62,1499.52C2133.62,1499.77 2135.61,1500.01 2137.61,1500.26C2139.61,1500.50 2141.60,1500.74 2143.60,1500.98C2145.60,1501.22 2147.60,1501.45 2149.59,1501.69C2151.59,1501.92 2153.59,1502.15 2155.58,1502.38C2157.58,1502.61 2159.58,1502.84 2161.57,1503.06C2163.57,1503.29 2165.57,1503.51 2167.56,1503.73C2169.56,1503.96 2171.56,1504.18 2173.56,1504.40C2175.55,1504.62 2177.55,1504.84 2179.55,1505.06C2181.54,1505.27 2183.54,1505.49 2185.54,1505.71C2187.53,1505.92 2189.53,1506.14 2191.53,1506.35C2193.52,1506.57 2195.52,1506.78 2197.52,1507.00C2199.52,1507.21 2201.51,1507.43 2203.51,1507.64C2205.51,1507.86 2207.50,1508.07 2209.50,1508.28"/>
<path stroke="#5B9BD5" d="M256.50,1100.92C258.50,1104.91 260.49,1108.90 262.49,1112.90C264.49,1116.89 266.48,1120.88 268.48,1124.87C270.48,1128.87 272.48,1132.85 274.47,1136.83C276.47,1140.82 278.47,1144.79 280.46,1148.76C282.46,1152.72 284.46,1156.68 286.45,1160.61C288.45,1164.55 290.45,1168.46 292.44,1172.35C294.44,1176.23 296.44,1180.09 298.44,1183.90C300.43,1187.71 302.43,1191.48 304.43,1195.19C306.42,1198.89 308.42,1202.54 310.42,1206.11C312.41,1209.68 314.41,1213.17 316.41,1216.56C318.40,1219.96 320.40,1223.25 322.40,1226.43C324.40,1229.61 326.39,1232.68 328.39,1235.63C330.39,1238.58 332.38,1241.41 334.38,1244.11C336.38,1246.82 338.37,1249.39 340.37,1251.84C342.37,1254.28 344.37,1256.58 346.36,1258.74C348.36,1260.90 350.36,1262.92 352.35,1264.79C354.35,1266.66 356.35,1268.37 358.34,1269.93C360.34,1271.49 362.34,1272.90 364.33,1274.14C366.33,1275.38 368.33,1276.46 370.33,1277.36C372.32,1278.27 374.32,1279.00 376.32,1279.55C378.31,1280.10 380.31,1280.46 382.31,1280.63C384.30,1280.79 386.30,1280.76 388.30,1280.52C390.29,1280.28 392.29,1279.83 394.29,1279.16C396.29,1278.50 398.28,1277.61 400.28,1276.51C402.28,1275.40 404.27,1274.07 406.27,1272.50C408.27,1270.93 410.26,1269.14 412.26,1267.10C414.26,1265.07 416.25,1262.81 418.25,1260.32C420.25,1257.83 422.25,1255.10 424.24,1252.15C426.24,1249.20 428.24,1246.02 430.23,1242.62C432.23,1239.22 434.23,1235.61 436.22,1231.78C438.22,1227.96 440.22,1223.93 442.21,1219.71C444.21,1215.49 446.21,1211.08 448.21,1206.50C450.20,1201.91 452.20,1197.16 454.20,1192.25C456.19,1187.34 458.19,1182.28 460.19,1177.08C462.18,1171.89 464.18,1166.57 466.18,1161.13C468.17,1155.69 470.17,1150.13 472.17,1144.49C474.17,1138.84 476.16,1133.10 478.16,1127.29C480.16,1121.47 482.15,1115.58 484.15,1109.63C486.15,1103.68 488.14,1097.68 490.14,1091.63C492.14,1085.58 494.13,1079.49 496.13,1073.37C498.13,1067.26 500.13,1061.11 502.12,1054.96C504.12,1048.81 506.12,1042.64 508.11,1036.48C510.11,1030.31 512.11,1024.14 514.10,1017.98C516.10,1011.82 518.10,1005.67 520.10,999.52C522.09,993.38 524.09,987.25 526.09,981.13C528.08,975.01 530.08,968.91 532.08,962.81C534.07,956.72 536.07,950.64 538.07,944.57C540.06,938.50 542.06,932.44 544.06,926.40C546.06,920.35 548.05,914.31 550.05,908.28C552.05,902.25 554.04,896.23 556.04,890.22C558.04,884.21 560.03,878.20 562.03,872.20C564.03,866.21 566.02,860.22 568.02,854.24C570.02,848.25 572.02,842.28 574.01,836.32C576.01,830.36 578.01,824.41 580.00,818.48C582.00,812.55 584.00,806.64 585.99,800.74C587.99,794.85 589.99,788.99 591.98,783.15C593.98,777.31 595.98,771.51 597.98,765.74C599.97,759.98 601.97,754.25 603.97,748.57C605.96,742.89 607.96,737.26 609.96,731.68C611.95,726.11 613.95,720.58 615.95,715.13C617.94,709.67 619.94,704.27 621.94,698.95C623.94,693.62 625.93,688.37 627.93,683.20C629.93,678.02 631.92,672.92 633.92,667.89C635.92,662.87 637.91,657.93 639.91,653.07C641.91,648.20 643.90,643.42 645.90,638.72C647.90,634.02 649.90,629.39 651.89,624.85C653.89,620.31 655.89,615.85 657.88,611.48C659.88,607.10 661.88,602.80 663.87,598.59C665.87,594.38 667.87,590.24 669.87,586.19C671.86,582.14 673.86,578.17 675.86,574.27C677.85,570.38 679.85,566.56 681.85,562.83C683.84,559.09 685.84,555.44 687.84,551.86C689.83,548.28 691.83,544.79 693.83,541.37C695.83,537.96 697.82,534.63 699.82,531.39C701.82,528.14 703.81,524.97 705.81,521.89C707.81,518.81 709.80,515.81 711.80,512.90C713.80,509.98 715.79,507.15 717.79,504.39C719.79,501.64 721.79,498.97 723.78,496.38C725.78,493.79 727.78,491.28 729.77,488.85C731.77,486.42 733.77,484.07 735.76,481.80C737.76,479.52 739.76,477.33 741.75,475.21C743.75,473.09 745.75,471.04 747.75,469.07C749.74,467.09 751.74,465.19 753.74,463.36C755.73,461.53 757.73,459.76 759.73,458.06C761.72,456.37 763.72,454.73 765.72,453.17C767.71,451.60 769.71,450.10 771.71,448.67C773.71,447.24 775.70,445.87 777.70,444.58C779.70,443.28 781.69,442.04 783.69,440.88C785.69,439.71 787.68,438.62 789.68,437.59C791.68,436.56 793.67,435.60 795.67,434.71C797.67,433.82 799.67,433.00 801.66,432.26C803.66,431.51 805.66,430.84 807.65,430.23C809.65,429.63 811.65,429.10 813.64,428.65C815.64,428.20 817.64,427.82 819.63,427.52C821.63,427.22 823.63,427.00 825.63,426.86C827.62,426.72 829.62,426.65 831.62,426.67C833.61,426.69 835.61,426.79 837.61,426.96C839.60,427.13 841.60,427.37 843.60,427.69C845.60,428.00 847.59,428.38 849.59,428.83C851.59,429.27 853.58,429.78 855.58,430.35C857.58,430.92 859.57,431.54 861.57,432.22C863.57,432.90 865.56,433.63 867.56,434.41C869.56,435.18 871.56,436.01 873.55,436.88C875.55,437.75 877.55,438.66 879.54,439.60C881.54,440.55 883.54,441.53 885.53,442.56C887.53,443.58 889.53,444.64 891.52,445.73C893.52,446.83 895.52,447.96 897.52,449.13C899.51,450.29 901.51,451.50 903.51,452.73C905.50,453.97 907.50,455.25 909.50,456.55C911.49,457.86 913.49,459.20 915.49,460.57C917.48,461.94 919.48,463.34 921.48,464.76C923.48,466.18 925.47,467.62 927.47,469.09C929.47,470.55 931.46,472.03 933.46,473.52C935.46,475.02 937.45,476.52 939.45,478.04C941.45,479.56 943.44,481.08 945.44,482.61C947.44,484.15 949.44,485.69 951.43,487.25C953.43,488.81 955.43,490.39 957.42,491.98C959.42,493.57 961.42,495.17 963.41,496.80C965.41,498.42 967.41,500.07 969.40,501.74C971.40,503.40 973.40,505.09 975.40,506.81C977.39,508.52 979.39,510.26 981.39,512.01C983.38,513.77 985.38,515.54 987.38,517.32C989.37,519.11 991.37,520.91 993.37,522.71C995.37,524.52 997.36,526.33 999.36,528.15C1001.36,529.96 1003.35,531.78 1005.35,533.59C1007.35,535.41 1009.34,537.22 1011.34,539.03C1013.34,540.83 1015.33,542.63 1017.33,544.43C1019.33,546.22 1021.33,548.01 1023.32,549.79C1025.32,551.57 1027.32,553.35 1029.31,555.12C1031.31,556.88 1033.31,558.65 1035.30,560.40C1037.30,562.15 1039.30,563.90 1041.29,565.64C1043.29,567.38 1045.29,569.11 1047.29,570.83C1049.28,572.56 1051.28,574.27 1053.28,575.98C1055.27,577.69 1057.27,579.38 1059.27,581.07C1061.26,582.75 1063.26,584.42 1065.26,586.09C1067.25,587.75 1069.25,589.40 1071.25,591.03C1073.25,592.67 1075.24,594.29 1077.24,595.89C1079.24,597.50 1081.23,599.09 1083.23,600.67C1085.23,602.25 1087.22,603.81 1089.22,605.37C1091.22,606.92 1093.21,608.46 1095.21,610.00C1097.21,611.54 1099.21,613.07 1101.20,614.59C1103.20,616.12 1105.20,617.64 1107.19,619.16C1109.19,620.68 1111.19,622.19 1113.18,623.71C1115.18,625.23 1117.18,626.74 1119.17,628.26C1121.17,629.78 1123.17,631.30 1125.17,632.83C1127.16,634.36 1129.16,635.89 1131.16,637.43C1133.15,638.97 1135.15,640.52 1137.15,642.07C1139.14,643.63 1141.14,645.20 1143.14,646.78C1145.13,648.36 1147.13,649.95 1149.13,651.56C1151.13,653.16 1153.12,654.78 1155.12,656.41C1157.12,658.05 1159.11,659.70 1161.11,661.36C1163.11,663.03 1165.10,664.71 1167.10,666.41C1169.10,668.11 1171.10,669.82 1173.09,671.55C1175.09,673.28 1177.09,675.03 1179.08,676.79C1181.08,678.55 1183.08,680.32 1185.07,682.11C1187.07,683.90 1189.07,685.70 1191.06,687.51C1193.06,689.32 1195.06,691.14 1197.06,692.97C1199.05,694.80 1201.05,696.64 1203.05,698.50C1205.04,700.35 1207.04,702.21 1209.04,704.08C1211.03,705.96 1213.03,707.84 1215.03,709.74C1217.02,711.64 1219.02,713.55 1221.02,715.47C1223.02,717.39 1225.01,719.33 1227.01,721.28C1229.01,723.23 1231.00,725.19 1233.00,727.17C1235.00,729.15 1236.99,731.14 1238.99,733.15C1240.99,735.16 1242.98,737.19 1244.98,739.23C1246.98,741.27 1248.98,743.34 1250.97,745.42C1252.97,747.50 1254.97,749.60 1256.96,751.72C1258.96,753.84 1260.96,755.98 1262.95,758.14C1264.95,760.30 1266.95,762.49 1268.94,764.69C1270.94,766.90 1272.94,769.13 1274.94,771.38C1276.93,773.63 1278.93,775.91 1280.93,778.21C1282.92,780.50 1284.92,782.82 1286.92,785.16C1288.91,787.50 1290.91,789.86 1292.91,792.25C1294.90,794.63 1296.90,797.03 1298.90,799.46C1300.90,801.88 1302.89,804.33 1304.89,806.80C1306.89,809.26 1308.88,811.75 1310.88,814.26C1312.88,816.77 1314.87,819.30 1316.87,821.84C1318.87,824.39 1320.87,826.96 1322.86,829.55C1324.86,832.14 1326.86,834.75 1328.85,837.37C1330.85,840.00 1332.85,842.65 1334.84,845.31C1336.84,847.98 1338.84,850.66 1340.83,853.36C1342.83,856.07 1344.83,858.79 1346.83,861.52C1348.82,864.26 1350.82,867.02 1352.82,869.79C1354.81,872.56 1356.81,875.35 1358.81,878.15C1360.80,880.96 1362.80,883.78 1364.80,886.61C1366.79,889.44 1368.79,892.29 1370.79,895.16C1372.79,898.02 1374.78,900.89 1376.78,903.78C1378.78,906.67 1380.77,909.57 1382.77,912.49C1384.77,915.40 1386.76,918.32 1388.76,921.26C1390.76,924.19 1392.75,927.13 1394.75,930.09C1396.75,933.04 1398.75,936.00 1400.74,938.97C1402.74,941.94 1404.74,944.92 1406.73,947.91C1408.73,950.89 1410.73,953.88 1412.72,956.88C1414.72,959.87 1416.72,962.88 1418.71,965.88C1420.71,968.89 1422.71,971.90 1424.71,974.92C1426.70,977.93 1428.70,980.95 1430.70,983.97C1432.69,986.99 1434.69,990.02 1436.69,993.04C1438.68,996.06 1440.68,999.09 1442.68,1002.11C1444.67,1005.13 1446.67,1008.16 1448.67,1011.18C1450.67,1014.20 1452.66,1017.22 1454.66,1020.23C1456.66,1023.25 1458.65,1026.26 1460.65,1029.27C1462.65,1032.28 1464.64,1035.28 1466.64,1038.28C1468.64,1041.28 1470.63,1044.27 1472.63,1047.25C1474.63,1050.24 1476.63,1053.22 1478.62,1056.19C1480.62,1059.16 1482.62,1062.12 1484.61,1065.08C1486.61,1068.03 1488.61,1070.98 1490.60,1073.91C1492.60,1076.85 1494.60,1079.77 1496.60,1082.69C1498.59,1085.60 1500.59,1088.50 1502.59,1091.39C1504.58,1094.28 1506.58,1097.16 1508.58,1100.02C1510.57,1102.88 1512.57,1105.73 1514.57,1108.56C1516.56,1111.39 1518.56,1114.21 1520.56,1117.00C1522.56,1119.80 1524.55,1122.58 1526.55,1125.34C1528.55,1128.10 1530.54,1130.84 1532.54,1133.56C1534.54,1136.28 1536.53,1138.98 1538.53,1141.66C1540.53,1144.34 1542.52,1147.00 1544.52,1149.63C1546.52,1152.27 1548.52,1154.88 1550.51,1157.47C1552.51,1160.07 1554.51,1162.63 1556.50,1165.18C1558.50,1167.72 1560.50,1170.24 1562.49,1172.74C1564.49,1175.23 1566.49,1177.70 1568.48,1180.15C1570.48,1182.60 1572.48,1185.02 1574.48,1187.41C1576.47,1189.81 1578.47,1192.18 1580.47,1194.52C1582.46,1196.87 1584.46,1199.19 1586.46,1201.48C1588.45,1203.77 1590.45,1206.04 1592.45,1208.28C1594.44,1210.52 1596.44,1212.73 1598.44,1214.91C1600.44,1217.10 1602.43,1219.26 1604.43,1221.39C1606.43,1223.52 1608.42,1225.62 1610.42,1227.70C1612.42,1229.78 1614.41,1231.83 1616.41,1233.86C1618.41,1235.89 1620.40,1237.89 1622.40,1239.86C1624.40,1241.84 1626.40,1243.78 1628.39,1245.71C1630.39,1247.63 1632.39,1249.53 1634.38,1251.41C1636.38,1253.28 1638.38,1255.14 1640.37,1256.96C1642.37,1258.79 1644.37,1260.60 1646.37,1262.38C1648.36,1264.16 1650.36,1265.92 1652.36,1267.66C1654.35,1269.40 1656.35,1271.12 1658.35,1272.81C1660.34,1274.51 1662.34,1276.19 1664.34,1277.85C1666.33,1279.50 1668.33,1281.14 1670.33,1282.76C1672.33,1284.38 1674.32,1285.98 1676.32,1287.56C1678.32,1289.14 1680.31,1290.70 1682.31,1292.25C1684.31,1293.80 1686.30,1295.33 1688.30,1296.84C1690.30,1298.35 1692.29,1299.85 1694.29,1301.33C1696.29,1302.81 1698.29,1304.27 1700.28,1305.72C1702.28,1307.17 1704.28,1308.61 1706.27,1310.03C1708.27,1311.45 1710.27,1312.85 1712.26,1314.24C1714.26,1315.63 1716.26,1317.01 1718.25,1318.37C1720.25,1319.74 1722.25,1321.09 1724.25,1322.42C1726.24,1323.76 1728.24,1325.08 1730.24,1326.40C1732.23,1327.71 1734.23,1329.00 1736.23,1330.29C1738.22,1331.57 1740.22,1332.85 1742.22,1334.11C1744.21,1335.37 1746.21,1336.62 1748.21,1337.85C1750.21,1339.09 1752.20,1340.31 1754.20,1341.52C1756.20,1342.73 1758.19,1343.93 1760.19,1345.12C1762.19,1346.31 1764.18,1347.49 1766.18,1348.65C1768.18,1349.82 1770.17,1350.97 1772.17,1352.11C1774.17,1353.25 1776.17,1354.38 1778.16,1355.50C1780.16,1356.62 1782.16,1357.73 1784.15,1358.82C1786.15,1359.92 1788.15,1361.01 1790.14,1362.08C1792.14,1363.15 1794.14,1364.21 1796.13,1365.26C1798.13,1366.31 1800.13,1367.35 1802.13,1368.38C1804.12,1369.41 1806.12,1370.43 1808.12,1371.43C1810.11,1372.44 1812.11,1373.44 1814.11,1374.42C1816.10,1375.40 1818.10,1376.38 1820.10,1377.34C1822.10,1378.30 1824.09,1379.25 1826.09,1380.19C1828.09,1381.13 1830.08,1382.07 1832.08,1382.98C1834.08,1383.90 1836.07,1384.81 1838.07,1385.71C1840.07,1386.61 1842.06,1387.50 1844.06,1388.38C1846.06,1389.26 1848.06,1390.13 1850.05,1390.99C1852.05,1391.84 1854.05,1392.69 1856.04,1393.53C1858.04,1394.37 1860.04,1395.20 1862.03,1396.03C1864.03,1396.85 1866.03,1397.66 1868.02,1398.47C1870.02,1399.28 1872.02,1400.08 1874.02,1400.87C1876.01,1401.66 1878.01,1402.45 1880.01,1403.23C1882.00,1404.01 1884.00,1404.79 1886.00,1405.56C1887.99,1406.33 1889.99,1407.09 1891.99,1407.85C1893.98,1408.61 1895.98,1409.37 1897.98,1410.12C1899.98,1410.87 1901.97,1411.62 1903.97,1412.36C1905.97,1413.10 1907.96,1413.84 1909.96,1414.57C1911.96,1415.31 1913.95,1416.04 1915.95,1416.76C1917.95,1417.49 1919.94,1418.21 1921.94,1418.92C1923.94,1419.64 1925.94,1420.35 1927.93,1421.06C1929.93,1421.77 1931.93,1422.47 1933.92,1423.17C1935.92,1423.87 1937.92,1424.57 1939.91,1425.26C1941.91,1425.95 1943.91,1426.63 1945.90,1427.31C1947.90,1427.99 1949.90,1428.67 1951.90,1429.34C1953.89,1430.01 1955.89,1430.67 1957.89,1431.33C1959.88,1431.99 1961.88,1432.64 1963.88,1433.29C1965.87,1433.94 1967.87,1434.58 1969.87,1435.21C1971.87,1435.85 1973.86,1436.48 1975.86,1437.10C1977.86,1437.72 1979.85,1438.34 1981.85,1438.95C1983.85,1439.56 1985.84,1440.16 1987.84,1440.75C1989.84,1441.35 1991.83,1441.94 1993.83,1442.52C1995.83,1443.10 1997.83,1443.67 1999.82,1444.24C2001.82,1444.81 2003.82,1445.37 2005.81,1445.92C2007.81,1446.48 2009.81,1447.02 2011.80,1447.57C2013.80,1448.11 2015.80,1448.64 2017.79,1449.17C2019.79,1449.69 2021.79,1450.22 2023.79,1450.73C2025.78,1451.24 2027.78,1451.75 2029.78,1452.25C2031.77,1452.75 2033.77,1453.25 2035.77,1453.74C2037.76,1454.22 2039.76,1454.71 2041.76,1455.18C2043.75,1455.66 2045.75,1456.13 2047.75,1456.59C2049.75,1457.06 2051.74,1457.52 2053.74,1457.97C2055.74,1458.42 2057.73,1458.87 2059.73,1459.31C2061.73,1459.75 2063.72,1460.19 2065.72,1460.62C2067.72,1461.05 2069.71,1461.48 2071.71,1461.90C2073.71,1462.32 2075.71,1462.73 2077.70,1463.14C2079.70,1463.55 2081.70,1463.96 2083.69,1464.36C2085.69,1464.76 2087.69,1465.15 2089.68,1465.54C2091.68,1465.93 2093.68,1466.32 2095.67,1466.70C2097.67,1467.08 2099.67,1467.46 2101.67,1467.83C2103.66,1468.20 2105.66,1468.57 2107.66,1468.93C2109.65,1469.30 2111.65,1469.66 2113.65,1470.01C2115.64,1470.37 2117.64,1470.72 2119.64,1471.07C2121.63,1471.41 2123.63,1471.76 2125.63,1472.09C2127.63,1472.43 2129.62,1472.77 2131.62,1473.10C2133.62,1473.43 2135.61,1473.76 2137.61,1474.08C2139.61,1474.40 2141.60,1474.72 2143.60,1475.04C2145.60,1475.35 2147.60,1475.67 2149.59,1475.97C2151.59,1476.28 2153.59,1476.59 2155.58,1476.89C2157.58,1477.20 2159.58,1477.50 2161.57,1477.80C2163.57,1478.10 2165.57,1478.39 2167.56,1478.69C2169.56,1478.98 2171.56,1479.27 2173.56,1479.56C2175.55,1479.85 2177.55,1480.14 2179.55,1480.43C2181.54,1480.72 2183.54,1481.00 2185.54,1481.29C2187.53,1481.57 2189.53,1481.86 2191.53,1482.14C2193.52,1482.42 2195.52,1482.71 2197.52,1482.99C2199.52,1483.27 2201.51,1483.55 2203.51,1483.83C2205.51,1484.12 2207.50,1484.40 2209.50,1484.68"/>
</g>
<g stroke="#000" fill="none">
<line x1="254.0" y1="63.0" x2="2212.0" y2="63.0" stroke-width="6"/>
<line x1="228.5" y1="1574.0" x2="2212.0" y2="1574.0" stroke-width="6"/>
<line x1="256.5" y1="60.0" x2="256.5" y2="1602.0" stroke-width="5"/>
<line x1="2209.2" y1="60.0" x2="2209.2" y2="1602.0" stroke-width="4.5"/>
<line x1="242.5" y1="1479.6" x2="256.5" y2="1479.6" stroke-width="6"/>
<line x1="228.5" y1="1385.1" x2="256.5" y2="1385.1" stroke-width="6"/>
<line x1="242.5" y1="1290.7" x2="256.5" y2="1290.7" stroke-width="6"/>
<line x1="228.5" y1="1196.2" x2="256.5" y2="1196.2" stroke-width="6"/>
<line x1="242.5" y1="1101.8" x2="256.5" y2="1101.8" stroke-width="6"/>
<line x1="228.5" y1="1007.4" x2="256.5" y2="1007.4" stroke-width="6"/>
<line x1="242.5" y1="912.9" x2="256.5" y2="912.9" stroke-width="6"/>
<line x1="228.5" y1="818.5" x2="256.5" y2="818.5" stroke-width="6"/>
<line x1="242.5" y1="724.1" x2="256.5" y2="724.1" stroke-width="6"/>
<line x1="228.5" y1="629.6" x2="256.5" y2="629.6" stroke-width="6"/>
<line x1="242.5" y1="535.2" x2="256.5" y2="535.2" stroke-width="6"/>
<line x1="228.5" y1="440.8" x2="256.5" y2="440.8" stroke-width="6"/>
<line x1="242.5" y1="346.3" x2="256.5" y2="346.3" stroke-width="6"/>
<line x1="228.5" y1="251.9" x2="256.5" y2="251.9" stroke-width="6"/>
<line x1="242.5" y1="157.4" x2="256.5" y2="157.4" stroke-width="6"/>
<line x1="228.5" y1="63.0" x2="256.5" y2="63.0" stroke-width="6"/>
<line x1="378.6" y1="1574.0" x2="378.6" y2="1588.0" stroke-width="6"/>
<line x1="500.6" y1="1574.0" x2="500.6" y2="1602.0" stroke-width="6"/>
<line x1="622.7" y1="1574.0" x2="622.7" y2="1588.0" stroke-width="6"/>
<line x1="744.8" y1="1574.0" x2="744.8" y2="1602.0" stroke-width="6"/>
<line x1="866.8" y1="1574.0" x2="866.8" y2="1588.0" stroke-width="6"/>
<line x1="988.9" y1="1574.0" x2="988.9" y2="1602.0" stroke-width="6"/>
<line x1="1110.9" y1="1574.0" x2="1110.9" y2="1588.0" stroke-width="6"/>
<line x1="1233.0" y1="1574.0" x2="1233.0" y2="1602.0" stroke-width="6"/>
<line x1="1355.1" y1="1574.0" x2="1355.1" y2="1588.0" stroke-width="6"/>
<line x1="1477.1" y1="1574.0" x2="1477.1" y2="1602.0" stroke-width="6"/>
<line x1="1599.2" y1="1574.0" x2="1599.2" y2="1588.0" stroke-width="6"/>
<line x1="1721.2" y1="1574.0" x2="1721.2" y2="1602.0" stroke-width="6"/>
<line x1="1843.3" y1="1574.0" x2="1843.3" y2="1588.0" stroke-width="6"/>
<line x1="1965.4" y1="1574.0" x2="1965.4" y2="1602.0" stroke-width="6"/>
<line x1="2087.4" y1="1574.0" x2="2087.4" y2="1588.0" stroke-width="6"/>
</g>
<g fill="#000">
<text transform="translate(210.2,1593.2) scale(0.945,1)" font-size="65.5" text-anchor="end">0.0</text>
<text transform="translate(210.2,1404.3) scale(0.945,1)" font-size="65.5" text-anchor="end">0.2</text>
<text transform="translate(210.2,1215.5) scale(0.945,1)" font-size="65.5" text-anchor="end">0.4</text>
<text transform="translate(210.2,1026.6) scale(0.945,1)" font-size="65.5" text-anchor="end">0.6</text>
<text transform="translate(210.2,837.7) scale(0.945,1)" font-size="65.5" text-anchor="end">0.8</text>
<text transform="translate(210.2,648.8) scale(0.945,1)" font-size="65.5" text-anchor="end">1.0</text>
<text transform="translate(210.2,459.9) scale(0.945,1)" font-size="65.5" text-anchor="end">1.2</text>
<text transform="translate(210.2,271.1) scale(0.945,1)" font-size="65.5" text-anchor="end">1.4</text>
<text transform="translate(210.2,82.2) scale(0.945,1)" font-size="65.5" text-anchor="end">1.6</text>
<text transform="translate(255.7,1673.5) scale(0.945,1)" font-size="65.5" text-anchor="middle">300</text>
<text transform="translate(499.8,1673.5) scale(0.945,1)" font-size="65.5" text-anchor="middle">350</text>
<text transform="translate(744.0,1673.5) scale(0.945,1)" font-size="65.5" text-anchor="middle">400</text>
<text transform="translate(988.1,1673.5) scale(0.945,1)" font-size="65.5" text-anchor="middle">450</text>
<text transform="translate(1232.2,1673.5) scale(0.945,1)" font-size="65.5" text-anchor="middle">500</text>
<text transform="translate(1476.3,1673.5) scale(0.945,1)" font-size="65.5" text-anchor="middle">550</text>
<text transform="translate(1720.5,1673.5) scale(0.945,1)" font-size="65.5" text-anchor="middle">600</text>
<text transform="translate(1964.6,1673.5) scale(0.945,1)" font-size="65.5" text-anchor="middle">650</text>
<text transform="translate(2208.7,1673.5) scale(0.945,1)" font-size="65.5" text-anchor="middle">700</text>
</g>
<text transform="translate(958.5,1784.0) scale(0.930,1)" font-size="80.3">Wavelength (nm)</text>
<text transform="translate(76.7,1114.5) rotate(-90) scale(1,0.879)" font-size="78.3">Absorbance (a.u.)</text>
<text transform="translate(1171.3,180.3) scale(0.914,1)" font-size="81">AgNO<tspan font-size="54" dy="20.4">3</tspan><tspan dy="-20.4"> concentration (mM)</tspan></text>
<text transform="translate(1811.0,340.3) scale(0.907,1)" font-size="80.9">nm</text>
<text transform="translate(2006.0,340.3) scale(0.914,1)" font-size="80.9">a.u.</text>
<rect x="1603.5" y="559" width="562" height="93" fill="#FDC9FD"/>
<line x1="1422" y1="411.5" x2="1593" y2="411.5" stroke="#5B9BD5" stroke-width="5"/>
<text transform="translate(1606.6,438.5) scale(0.917,1)" font-size="80.9" fill="#5B9BD5">2.00; 417.5; 1.215</text>
<line x1="1422" y1="509.9" x2="1593" y2="509.9" stroke="#FF5555" stroke-width="5"/>
<text transform="translate(1606.6,536.9) scale(0.917,1)" font-size="80.9" fill="#FF5555">1.75; 418.0; 1.198</text>
<line x1="1422" y1="608.2" x2="1593" y2="608.2" stroke="#919191" stroke-width="5"/>
<text transform="translate(1606.6,635.2) scale(0.917,1)" font-size="80.9" fill="#A677A8">1.50; 415.5; 1.364</text>
<line x1="1422" y1="706.5" x2="1593" y2="706.5" stroke="#5C5C9A" stroke-width="5"/>
<text transform="translate(1606.6,733.5) scale(0.917,1)" font-size="80.9" fill="#5C5C9A">1.25; 413.5; 1.062</text>
<line x1="1422" y1="804.9" x2="1593" y2="804.9" stroke="#31C16A" stroke-width="5"/>
<text transform="translate(1606.6,831.9) scale(0.917,1)" font-size="80.9" fill="#31C16A">1.00; 414.0; 0.953</text>
<line x1="1422" y1="903.2" x2="1593" y2="903.2" stroke="#FFC000" stroke-width="5"/>
<text transform="translate(1606.6,930.2) scale(0.917,1)" font-size="80.9" fill="#FFC000">0.75; 414.0; 0.818</text>
<line x1="1422" y1="1001.6" x2="1593" y2="1001.6" stroke="#275E94" stroke-width="5"/>
<text transform="translate(1606.6,1028.6) scale(0.917,1)" font-size="80.9" fill="#275E94">0.50; 413.5; 0.654</text>
<line x1="1422" y1="1099.9" x2="1593" y2="1099.9" stroke="#EA0000" stroke-width="5"/>
<text transform="translate(1606.6,1126.9) scale(0.917,1)" font-size="80.9" fill="#EA0000">0.25; 413.0; 0.488</text>
</svg>
</body></html>
